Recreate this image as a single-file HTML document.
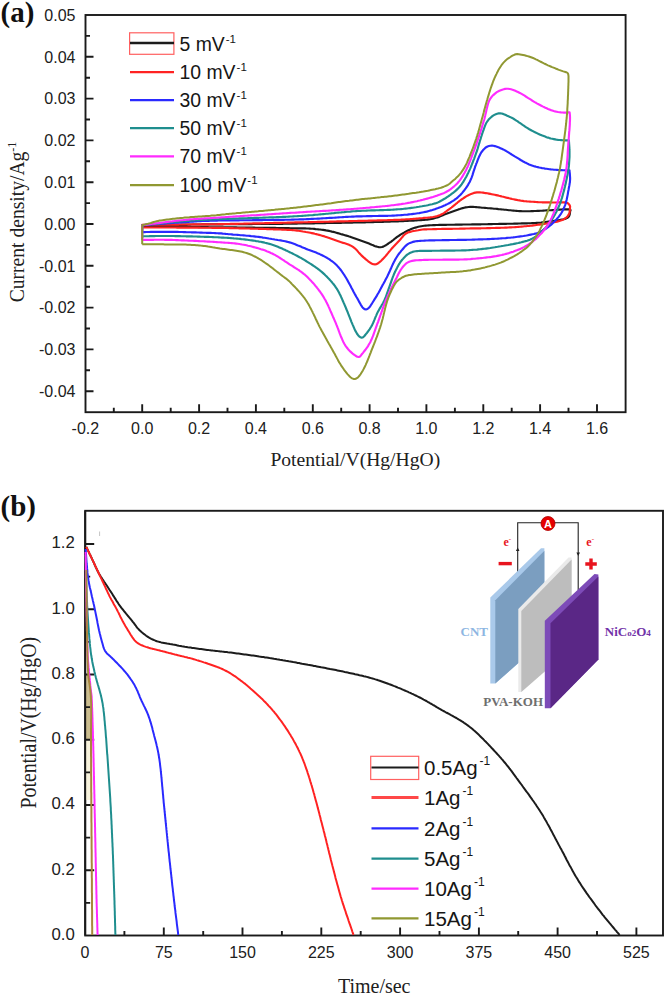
<!DOCTYPE html>
<html><head><meta charset="utf-8"><style>
html,body{margin:0;padding:0;background:#fff;width:668px;height:997px;overflow:hidden}
svg{display:block}
</style></head><body>
<svg width="668" height="997" viewBox="0 0 668 997"><rect x="85.5" y="15" width="540.1" height="397.2" fill="none" stroke="#1a1a1a" stroke-width="1.9"/>
<path d="M113.8 412.2V407.7M142.2 412.2V404.2M170.7 412.2V407.7M199.1 412.2V404.2M227.5 412.2V407.7M255.9 412.2V404.2M284.3 412.2V407.7M312.8 412.2V404.2M341.2 412.2V407.7M369.6 412.2V404.2M398 412.2V407.7M426.4 412.2V404.2M454.9 412.2V407.7M483.3 412.2V404.2M511.7 412.2V407.7M540.1 412.2V404.2M568.5 412.2V407.7M597 412.2V404.2M85.5 391.2H93.5M85.5 370.3H90M85.5 349.4H93.5M85.5 328.5H90M85.5 307.6H93.5M85.5 286.7H90M85.5 265.8H93.5M85.5 244.9H90M85.5 224H93.5M85.5 203.1H90M85.5 182.2H93.5M85.5 161.3H90M85.5 140.4H93.5M85.5 119.5H90M85.5 98.6H93.5M85.5 77.7H90M85.5 56.8H93.5M85.5 35.9H90" stroke="#1a1a1a" stroke-width="1.9" fill="none"/>
<g font-family='"Liberation Sans", sans-serif' font-size="16" fill="#202020" text-anchor="middle"><text x="85.4" y="434">-0.2</text><text x="142.2" y="434">0.0</text><text x="199.1" y="434">0.2</text><text x="255.9" y="434">0.4</text><text x="312.8" y="434">0.6</text><text x="369.6" y="434">0.8</text><text x="426.4" y="434">1.0</text><text x="483.3" y="434">1.2</text><text x="540.1" y="434">1.4</text><text x="597" y="434">1.6</text></g>
<g font-family='"Liberation Sans", sans-serif' font-size="16" fill="#202020" text-anchor="end"><text x="75.5" y="396.9">-0.04</text><text x="75.5" y="355.1">-0.03</text><text x="75.5" y="313.3">-0.02</text><text x="75.5" y="271.5">-0.01</text><text x="75.5" y="229.7">0.00</text><text x="75.5" y="187.9">0.01</text><text x="75.5" y="146.1">0.02</text><text x="75.5" y="104.3">0.03</text><text x="75.5" y="62.5">0.04</text><text x="75.5" y="20.7">0.05</text></g>
<text x="355.3" y="465.6" font-family='"Liberation Serif", serif' font-size="19.6" fill="#202020" text-anchor="middle">Potential/V(Hg/HgO)</text>
<g transform="translate(24.3 222) rotate(-90) scale(1 1.1)"><text x="0" y="0" font-family='"Liberation Serif", serif' font-size="19.6" fill="#202020" text-anchor="middle">Current density/Ag<tspan font-size="12" dy="-8">-1</tspan></text></g>
<text x="0.5" y="21.7" font-family='"Liberation Serif", serif' font-size="29" font-weight="bold" fill="#111">(a)</text>
<rect x="129.6" y="32.8" width="44.3" height="21.5" fill="none" stroke="#ff6060" stroke-width="1.2"/>
<path d="M130 43H174" stroke="#1c1c1c" stroke-width="2.3"/>
<text x="179.5" y="50.5" font-family='"Liberation Sans", sans-serif' font-size="19.4" fill="#161616">5 mV<tspan font-size="11.5" dx="1" dy="-8">-1</tspan></text>
<path d="M130 72.2H174" stroke="#ff2222" stroke-width="2.3"/>
<text x="179.5" y="78.6" font-family='"Liberation Sans", sans-serif' font-size="19.4" fill="#161616">10 mV<tspan font-size="11.5" dx="1" dy="-8">-1</tspan></text>
<path d="M130 100.1H174" stroke="#2a2aff" stroke-width="2.3"/>
<text x="179.5" y="106.7" font-family='"Liberation Sans", sans-serif' font-size="19.4" fill="#161616">30 mV<tspan font-size="11.5" dx="1" dy="-8">-1</tspan></text>
<path d="M130 128.2H174" stroke="#1f8e8e" stroke-width="2.3"/>
<text x="179.5" y="135.1" font-family='"Liberation Sans", sans-serif' font-size="19.4" fill="#161616">50 mV<tspan font-size="11.5" dx="1" dy="-8">-1</tspan></text>
<path d="M130 156.3H174" stroke="#ff2bff" stroke-width="2.3"/>
<text x="179.5" y="163.3" font-family='"Liberation Sans", sans-serif' font-size="19.4" fill="#161616">70 mV<tspan font-size="11.5" dx="1" dy="-8">-1</tspan></text>
<path d="M130 185.2H174" stroke="#909832" stroke-width="2.3"/>
<text x="179.5" y="191.5" font-family='"Liberation Sans", sans-serif' font-size="19.4" fill="#161616">100 mV<tspan font-size="11.5" dx="1" dy="-8">-1</tspan></text>
<g>
<path d="M142.2 226.5L142.2 225L143.7 225 145.2 225 146.7 225 148.2 224.9 149.7 224.9 151.2 224.9 152.7 224.9 154.2 224.9 155.7 224.9 157.2 224.9 158.7 224.8 160.2 224.8 161.7 224.8 163.2 224.8 164.7 224.8 166.2 224.8 167.7 224.8 169.2 224.8 170.7 224.7 172.2 224.7 173.7 224.7 175.2 224.7 176.7 224.7 178.2 224.7 179.7 224.7 181.2 224.6 182.7 224.6 184.2 224.6 185.7 224.6 187.2 224.6 188.7 224.6 190.2 224.6 191.7 224.5 193.2 224.5 194.7 224.5 196.2 224.5 197.7 224.5 199.2 224.5 200.7 224.5 202.2 224.4 203.7 224.4 205.2 224.4 206.7 224.4 208.2 224.4 209.7 224.4 211.2 224.4 212.7 224.4 214.2 224.3 215.7 224.3 217.2 224.3 218.7 224.3 220.2 224.3 221.7 224.3 223.2 224.3 224.7 224.2 226.2 224.2 227.7 224.2 229.2 224.2 230.7 224.2 232.2 224.2 233.7 224.2 235.2 224.2 236.7 224.1 238.2 224.1 239.7 224.1 241.2 224.1 242.7 224.1 244.2 224.1 245.7 224.1 247.2 224.1 248.7 224.1 250.2 224.1 251.7 224.1 253.2 224 254.7 224 256.2 224 257.7 224 259.2 224 260.7 224 262.2 224 263.7 224 265.2 224 266.7 224 268.2 223.9 269.7 223.9 271.2 223.9 272.7 223.9 274.2 223.9 275.7 223.9 277.2 223.8 278.7 223.8 280.2 223.8 281.7 223.8 283.2 223.8 284.7 223.7 286.2 223.7 287.7 223.7 289.2 223.7 290.7 223.6 292.2 223.6 293.7 223.6 295.2 223.6 296.7 223.6 298.2 223.5 299.7 223.5 301.2 223.5 302.7 223.5 304.2 223.4 305.7 223.4 307.2 223.4 308.7 223.4 310.2 223.3 311.7 223.3 313.2 223.3 314.7 223.3 316.2 223.2 317.7 223.2 319.2 223.2 320.7 223.2 322.2 223.1 323.7 223.1 325.2 223.1 326.7 223 328.2 223 329.7 223 331.2 223 332.7 222.9 334.2 222.9 335.7 222.9 337.2 222.9 338.7 222.8 340.2 222.8 341.7 222.8 343.2 222.7 344.7 222.7 346.2 222.7 347.7 222.7 349.2 222.6 350.7 222.6 352.2 222.6 353.7 222.5 355.2 222.5 356.7 222.5 358.2 222.4 359.7 222.4 361.2 222.4 362.7 222.3 364.2 222.3 365.7 222.3 367.2 222.2 368.7 222.2 370.2 222.2 371.7 222.1 373.2 222.1 374.7 222 376.2 222 377.7 222 379.2 221.9 380.7 221.9 382.2 221.8 383.7 221.8 385.2 221.7 386.7 221.7 388.2 221.7 389.7 221.6 391.2 221.5 392.7 221.5 394.2 221.4 395.7 221.4 397.2 221.3 398.7 221.3 400.2 221.2 401.7 221.1 403.2 221.1 404.7 221 406.2 220.9 407.7 220.9 409.2 220.8 410.7 220.7 412.2 220.7 413.6 220.6 415.1 220.5 416.6 220.4 418.1 220.3 419.6 220.2 421.1 220.1 422.6 220 424.1 219.9 425.6 219.7 427.1 219.6 428.6 219.4 430.1 219.2 431.6 218.9 433 218.6 434.5 218.2 435.9 217.8 437.4 217.4 438.8 216.9 440.2 216.3 441.5 215.7 442.9 215.2 444.3 214.6 445.7 214.1 447.1 213.6 448.5 213 449.9 212.5 451.3 211.9 452.7 211.4 454.1 210.9 455.5 210.4 457 209.9 458.4 209.4 459.8 209 461.3 208.5 462.7 208.1 464.2 207.7 465.6 207.4 467.1 207.2 468.6 207 470.1 206.9 471.6 206.8 473.1 206.9 474.6 207 476.1 207.1 477.6 207.3 479.1 207.4 480.6 207.5 482 207.7 483.5 207.8 485 207.9 486.5 208 488 208.2 489.5 208.3 491 208.4 492.5 208.5 494 208.7 495.5 208.8 497 208.9 498.5 209.1 500 209.2 501.5 209.4 503 209.5 504.5 209.7 505.9 209.8 507.4 210 508.9 210.2 510.4 210.3 511.9 210.5 513.4 210.6 514.9 210.8 516.4 210.9 517.9 211 519.4 211.1 520.9 211.1 522.4 211.2 523.9 211.2 525.4 211.2 526.9 211.2 528.4 211.2 529.9 211.2 531.4 211.1 532.9 211.1 534.4 211 535.9 211 537.4 210.9 538.9 210.9 540.4 210.8 541.9 210.7 543.4 210.6 544.9 210.5 546.4 210.4 547.9 210.3 549.4 210.2 550.9 210.2 552.4 210.1 553.9 210 555.4 209.9 556.8 209.8 558.3 209.7 559.8 209.6 561.3 209.5 562.8 209.4 564.3 209.4 565.8 209.3 567.3 209.3 568.8 209.3 570.3 209.5 570.5 210.6 570.1 211L570 212.5 569.8 214 569.4 215.4 568.7 216.7 567.6 217.7 566.2 218.4 564.8 218.9 563.4 219.3 561.9 219.6 560.4 219.9 559 220.2 557.5 220.4 556 220.6 554.5 220.8 553 221 551.5 221.2 550.1 221.4 548.6 221.6 547.1 221.8 545.6 222 544.1 222.2 542.6 222.4 541.1 222.6 539.6 222.7 538.1 222.8 536.6 222.9 535.1 223 533.6 223.1 532.1 223.1 530.6 223.2 529.1 223.2 527.6 223.3 526.2 223.3 524.7 223.4 523.2 223.4 521.7 223.4 520.2 223.5 518.7 223.5 517.2 223.6 515.7 223.6 514.2 223.6 512.7 223.7 511.2 223.7 509.7 223.7 508.2 223.7 506.7 223.8 505.2 223.8 503.7 223.8 502.2 223.9 500.7 223.9 499.2 223.9 497.7 224 496.2 224 494.7 224 493.2 224 491.7 224.1 490.2 224.1 488.7 224.1 487.2 224.2 485.7 224.2 484.2 224.2 482.7 224.2 481.2 224.3 479.7 224.3 478.2 224.3 476.7 224.4 475.2 224.4 473.7 224.4 472.2 224.4 470.7 224.5 469.2 224.5 467.7 224.5 466.2 224.5 464.7 224.5 463.2 224.5 461.7 224.6 460.2 224.6 458.7 224.6 457.2 224.6 455.7 224.6 454.2 224.7 452.7 224.7 451.2 224.7 449.7 224.7 448.2 224.7 446.7 224.8 445.2 224.8 443.7 224.8 442.2 224.9 440.7 224.9 439.2 224.9 437.7 225 436.2 225 434.7 225.1 433.2 225.1 431.7 225.2 430.2 225.3 428.7 225.4 427.2 225.5 425.7 225.6 424.2 225.8 422.7 226 421.2 226.2 419.7 226.5 418.3 226.8 416.8 227.2 415.4 227.6 414 228.1 412.6 228.6 411.2 229.1 409.8 229.7 408.4 230.3 407 230.9 405.7 231.6 404.4 232.4 403.1 233.1 401.8 233.9 400.5 234.7 399.3 235.5 398 236.3 396.8 237.2 395.6 238.1 394.4 239 393.3 240 392.1 240.9 390.9 241.8 389.6 242.6 388.4 243.5 387.2 244.3 385.9 245.2 384.6 245.9 383.3 246.6 381.9 247 380.4 247.2 378.9 247.1 377.4 246.8 376 246.4 374.5 245.9 373.2 245.3 371.8 244.8 370.4 244.2 369 243.6 367.6 243 366.2 242.4 364.8 241.9 363.4 241.4 362 240.9 360.6 240.4 359.2 239.9 357.8 239.4 356.4 238.9 355 238.4 353.5 237.9 352.1 237.4 350.7 236.9 349.3 236.5 347.8 236 346.4 235.6 344.9 235.2 343.5 234.8 342.1 234.4 340.6 234 339.2 233.5 337.7 233.1 336.3 232.7 334.8 232.3 333.4 231.9 331.9 231.6 330.5 231.2 329 230.9 327.5 230.6 326.1 230.4 324.6 230.1 323.1 229.9 321.6 229.7 320.1 229.5 318.6 229.4 317.1 229.2 315.6 229.1 314.2 228.9 312.7 228.8 311.2 228.7 309.7 228.6 308.2 228.5 306.7 228.5 305.2 228.4 303.7 228.4 302.2 228.4 300.7 228.3 299.2 228.3 297.7 228.3 296.2 228.3 294.7 228.2 293.2 228.2 291.7 228.2 290.2 228.2 288.7 228.1 287.2 228.1 285.7 228.1 284.2 228.1 282.7 228 281.2 228 279.7 228 278.2 228 276.7 228 275.2 227.9 273.7 227.9 272.2 227.9 270.7 227.9 269.2 227.8 267.7 227.8 266.2 227.8 264.7 227.8 263.2 227.8 261.7 227.7 260.2 227.7 258.7 227.7 257.2 227.7 255.7 227.7 254.2 227.6 252.7 227.6 251.2 227.6 249.7 227.6 248.2 227.6 246.7 227.6 245.2 227.5 243.7 227.5 242.2 227.5 240.7 227.5 239.2 227.5 237.7 227.5 236.2 227.4 234.7 227.4 233.2 227.4 231.7 227.4 230.2 227.4 228.7 227.4 227.2 227.3 225.7 227.3 224.2 227.3 222.7 227.3 221.2 227.3 219.7 227.3 218.2 227.3 216.7 227.2 215.2 227.2 213.7 227.2 212.2 227.2 210.7 227.2 209.2 227.2 207.7 227.1 206.2 227.1 204.7 227.1 203.2 227.1 201.7 227.1 200.2 227.1 198.7 227.1 197.2 227 195.7 227 194.2 227 192.7 227 191.2 227 189.7 227 188.2 227 186.7 226.9 185.2 226.9 183.7 226.9 182.2 226.9 180.7 226.9 179.2 226.9 177.7 226.9 176.2 226.8 174.7 226.8 173.2 226.8 171.7 226.8 170.2 226.8 168.7 226.8 167.2 226.7 165.7 226.7 164.2 226.7 162.7 226.7 161.2 226.7 159.7 226.7 158.2 226.7 156.7 226.6 155.2 226.6 153.7 226.6 152.2 226.6 150.7 226.6 149.2 226.6 147.7 226.6 146.2 226.5 144.7 226.5 143.2 226.5 142.2 226.5" fill="none" stroke="#1c1c1c" stroke-width="2.15" stroke-linejoin="round"/>
<path d="M142.2 227.5L142.2 224.8L143.7 224.8 145.2 224.8 146.7 224.8 148.2 224.8 149.7 224.7 151.2 224.7 152.7 224.7 154.2 224.7 155.7 224.7 157.2 224.7 158.7 224.7 160.2 224.7 161.7 224.7 163.2 224.7 164.7 224.7 166.2 224.6 167.7 224.6 169.2 224.6 170.7 224.6 172.2 224.6 173.7 224.6 175.2 224.6 176.7 224.6 178.2 224.6 179.7 224.5 181.2 224.5 182.7 224.5 184.2 224.5 185.7 224.5 187.2 224.5 188.7 224.5 190.2 224.5 191.7 224.5 193.2 224.4 194.7 224.4 196.2 224.4 197.7 224.4 199.2 224.4 200.7 224.4 202.2 224.4 203.7 224.3 205.2 224.3 206.7 224.3 208.2 224.3 209.7 224.3 211.2 224.2 212.7 224.2 214.2 224.2 215.7 224.2 217.2 224.2 218.7 224.1 220.2 224.1 221.7 224.1 223.2 224.1 224.7 224 226.2 224 227.7 224 229.2 224 230.7 223.9 232.2 223.9 233.7 223.9 235.2 223.8 236.7 223.8 238.2 223.8 239.7 223.7 241.2 223.7 242.7 223.7 244.2 223.6 245.7 223.6 247.2 223.6 248.7 223.5 250.2 223.5 251.7 223.5 253.2 223.4 254.7 223.4 256.2 223.4 257.7 223.3 259.2 223.3 260.7 223.3 262.2 223.2 263.7 223.2 265.2 223.1 266.7 223.1 268.2 223.1 269.7 223 271.2 223 272.7 223 274.2 222.9 275.7 222.9 277.2 222.9 278.7 222.8 280.2 222.8 281.7 222.8 283.2 222.7 284.7 222.7 286.2 222.7 287.7 222.6 289.2 222.6 290.7 222.6 292.2 222.5 293.7 222.5 295.2 222.4 296.7 222.4 298.2 222.4 299.7 222.3 301.2 222.3 302.7 222.3 304.2 222.2 305.7 222.2 307.2 222.2 308.7 222.1 310.2 222.1 311.7 222.1 313.2 222 314.7 222 316.2 222 317.7 221.9 319.2 221.9 320.7 221.8 322.2 221.8 323.7 221.8 325.2 221.7 326.7 221.7 328.2 221.7 329.7 221.6 331.2 221.6 332.7 221.6 334.2 221.5 335.7 221.5 337.2 221.4 338.7 221.4 340.2 221.4 341.7 221.3 343.2 221.3 344.7 221.3 346.2 221.2 347.7 221.2 349.2 221.1 350.7 221.1 352.2 221.1 353.7 221 355.2 221 356.7 221 358.2 220.9 359.7 220.9 361.2 220.8 362.7 220.8 364.2 220.8 365.7 220.7 367.2 220.7 368.7 220.6 370.2 220.6 371.7 220.6 373.2 220.5 374.7 220.5 376.2 220.5 377.7 220.4 379.2 220.4 380.7 220.3 382.2 220.3 383.7 220.2 385.1 220.2 386.6 220.2 388.1 220.1 389.6 220.1 391.1 220 392.6 220 394.1 219.9 395.6 219.9 397.1 219.8 398.6 219.8 400.1 219.7 401.6 219.6 403.1 219.6 404.6 219.5 406.1 219.4 407.6 219.3 409.1 219.2 410.6 219.1 412.1 219 413.6 218.9 415.1 218.8 416.6 218.6 418.1 218.5 419.6 218.3 421.1 218.2 422.6 218.1 424.1 217.9 425.6 217.8 427.1 217.7 428.6 217.5 430 217.4 431.5 217.2 433 217 434.5 216.7 436 216.4 437.4 216 438.8 215.5 440.2 215 441.6 214.3 442.9 213.6 444.2 212.8 445.4 212 446.6 211.1 447.8 210.2 449 209.3 450.3 208.4 451.5 207.5 452.6 206.6 453.8 205.7 455 204.7 456.1 203.7 457.3 202.8 458.4 201.8 459.6 200.9 460.8 200 462 199.2 463.3 198.3 464.5 197.5 465.8 196.7 467.1 195.9 468.4 195.2 469.8 194.6 471.1 193.9 472.5 193.4 473.9 192.9 475.4 192.6 476.9 192.4 478.4 192.3 479.9 192.4 481.4 192.5 482.9 192.6 484.4 192.9 485.8 193.1 487.3 193.3 488.8 193.6 490.3 193.9 491.7 194.2 493.2 194.5 494.7 194.8 496.1 195.1 497.6 195.4 499.1 195.8 500.5 196.1 502 196.5 503.4 196.8 504.9 197.2 506.4 197.6 507.8 197.9 509.3 198.3 510.7 198.6 512.2 199 513.6 199.3 515.1 199.6 516.6 199.9 518.1 200.2 519.5 200.4 521 200.7 522.5 200.9 524 201.1 525.5 201.2 527 201.4 528.5 201.5 530 201.6 531.5 201.7 533 201.8 534.5 201.9 536 202 537.5 202.1 538.9 202.2 540.4 202.2 541.9 202.3 543.4 202.3 544.9 202.4 546.4 202.4 547.9 202.4 549.4 202.4 550.9 202.5 552.4 202.5 553.9 202.5 555.4 202.5 556.9 202.5 558.4 202.4 559.9 202.4 561.4 202.4 562.9 202.3 564.4 202.4 565.9 202.5 567.4 203 568.6 203.8 569.5 205 570.1 206.2L570 207.7 569.9 209.2 569.8 210.7 569.6 212.2 569.2 213.6 568.5 215 567.6 216.2 566.6 217.3 565.4 218.2 564.2 219 562.8 219.7 561.5 220.3 560 220.8 558.6 221.2 557.1 221.6 555.7 221.9 554.2 222.2 552.7 222.4 551.3 222.7 549.8 223 548.3 223.2 546.8 223.5 545.3 223.7 543.9 223.9 542.4 224.2 540.9 224.4 539.4 224.6 537.9 224.8 536.4 225 535 225.2 533.5 225.4 532 225.6 530.5 225.7 529 225.9 527.5 226 526 226.2 524.5 226.3 523 226.5 521.5 226.6 520 226.8 518.5 226.9 517 227 515.5 227.1 514 227.2 512.6 227.3 511.1 227.4 509.6 227.4 508.1 227.5 506.6 227.6 505.1 227.6 503.6 227.7 502.1 227.7 500.6 227.8 499.1 227.8 497.6 227.9 496.1 227.9 494.6 228 493.1 228 491.6 228 490.1 228.1 488.6 228.1 487.1 228.1 485.6 228.2 484.1 228.2 482.6 228.2 481.1 228.3 479.6 228.3 478.1 228.3 476.6 228.3 475.1 228.4 473.6 228.4 472.1 228.4 470.6 228.4 469.1 228.5 467.6 228.5 466.1 228.5 464.6 228.6 463.1 228.6 461.6 228.6 460.1 228.6 458.6 228.7 457.1 228.7 455.6 228.7 454.1 228.7 452.6 228.8 451.1 228.8 449.6 228.8 448.1 228.8 446.6 228.9 445.1 228.9 443.6 228.9 442.1 228.9 440.6 229 439.1 229 437.6 229 436.1 229.1 434.6 229.1 433.1 229.1 431.6 229.2 430.1 229.2 428.6 229.2 427.1 229.3 425.6 229.3 424.1 229.4 422.6 229.5 421.1 229.7 419.6 230 418.2 230.3 416.7 230.5 415.2 230.8 413.7 231 412.2 231.3 410.8 231.7 409.3 232.1 407.9 232.6 406.6 233.2 405.3 234 404.2 235 403.1 236.1 402.2 237.3 401.2 238.4 400.3 239.6 399.2 240.7 398.2 241.7 397.2 242.8 396.1 243.9 395.1 245 394.1 246.1 393 247.2 392 248.3 391.1 249.4 390.1 250.6 389.1 251.7 388.2 252.9 387.2 254.1 386.3 255.2 385.3 256.4 384.3 257.5 383.3 258.6 382.2 259.6 381.2 260.7 380.1 261.7 378.9 262.7 377.7 263.5 376.3 264.2 374.9 264.4 373.4 264.3 372 263.7 370.7 263 369.4 262.2 368.2 261.3 367.1 260.3 365.9 259.4 364.8 258.4 363.6 257.4 362.5 256.4 361.4 255.4 360.4 254.3 359.4 253.2 358.4 252.1 357.4 250.9 356.4 249.8 355.3 248.8 354.2 247.8 353 246.9 351.7 246.1 350.4 245.4 349 244.8 347.6 244.2 346.2 243.7 344.8 243.3 343.3 242.9 341.9 242.4 340.5 242 339.1 241.5 337.6 241 336.2 240.5 334.8 240 333.4 239.5 332 239 330.6 238.5 329.2 238 327.7 237.5 326.3 237 324.9 236.6 323.5 236.1 322 235.7 320.6 235.3 319.1 234.9 317.7 234.5 316.2 234.1 314.8 233.8 313.3 233.4 311.8 233.1 310.4 232.8 308.9 232.5 307.4 232.2 306 232 304.5 231.7 303 231.5 301.5 231.2 300 231 298.5 230.8 297.1 230.6 295.6 230.4 294.1 230.2 292.6 230.1 291.1 230 289.6 229.9 288.1 229.8 286.6 229.8 285.1 229.7 283.6 229.6 282.1 229.6 280.6 229.5 279.1 229.5 277.6 229.4 276.1 229.4 274.6 229.3 273.1 229.3 271.6 229.2 270.1 229.2 268.6 229.1 267.1 229.1 265.6 229 264.1 229 262.6 228.9 261.1 228.9 259.6 228.8 258.1 228.8 256.6 228.7 255.1 228.7 253.6 228.7 252.1 228.6 250.6 228.6 249.1 228.5 247.6 228.5 246.1 228.5 244.6 228.4 243.1 228.4 241.6 228.3 240.1 228.3 238.6 228.3 237.1 228.2 235.6 228.2 234.1 228.2 232.6 228.1 231.1 228.1 229.6 228.1 228.1 228 226.6 228 225.1 228 223.6 227.9 222.1 227.9 220.6 227.9 219.1 227.9 217.6 227.8 216.1 227.8 214.6 227.8 213.1 227.8 211.6 227.8 210.1 227.7 208.6 227.7 207.1 227.7 205.6 227.7 204.1 227.7 202.6 227.7 201.1 227.7 199.6 227.6 198.1 227.6 196.6 227.6 195.1 227.6 193.6 227.6 192.1 227.6 190.6 227.6 189.1 227.6 187.6 227.6 186.1 227.6 184.6 227.6 183.1 227.6 181.6 227.6 180.1 227.6 178.6 227.6 177.1 227.6 175.6 227.5 174.1 227.5 172.6 227.5 171.1 227.5 169.6 227.5 168.1 227.5 166.6 227.5 165.1 227.5 163.6 227.5 162.1 227.5 160.6 227.5 159.1 227.5 157.6 227.5 156.1 227.5 154.6 227.5 153.1 227.5 151.6 227.5 150.1 227.5 148.6 227.5 147.1 227.5 145.6 227.5 144.1 227.5 142.6 227.5 142.2 227.5" fill="none" stroke="#ff2222" stroke-width="2.15" stroke-linejoin="round"/>
<path d="M142.2 232.1L142.2 225.2L143.7 225.1 145.2 225 146.7 224.9 148.2 224.8 149.7 224.7 151.2 224.5 152.7 224.4 154.2 224.3 155.7 224.2 157.2 224.1 158.7 224 160.2 223.9 161.6 223.8 163.1 223.7 164.6 223.6 166.1 223.5 167.6 223.3 169.1 223.2 170.6 223.1 172.1 223 173.6 222.9 175.1 222.8 176.6 222.7 178.1 222.6 179.6 222.5 181.1 222.4 182.6 222.3 184.1 222.2 185.6 222.1 187.1 222 188.6 221.9 190.1 221.8 191.6 221.7 193.1 221.6 194.6 221.5 196.1 221.4 197.6 221.3 199.1 221.2 200.6 221.1 202.1 221 203.6 221 205.1 220.9 206.6 220.9 208 220.8 209.5 220.8 211 220.7 212.5 220.7 214 220.6 215.5 220.6 217 220.6 218.5 220.5 220 220.5 221.5 220.5 223 220.5 224.5 220.4 226 220.4 227.5 220.4 229 220.4 230.5 220.4 232 220.3 233.5 220.3 235 220.3 236.5 220.3 238 220.3 239.5 220.3 241 220.2 242.5 220.2 244 220.2 245.5 220.2 247 220.2 248.5 220.2 250 220.2 251.5 220.2 253 220.1 254.5 220.1 256 220.1 257.5 220.1 259 220.1 260.5 220.1 262 220.1 263.5 220 265 220 266.5 220 268 220 269.5 220 271 220 272.5 219.9 274 219.9 275.5 219.9 277 219.9 278.5 219.9 280 219.8 281.5 219.8 283 219.8 284.5 219.8 286 219.7 287.5 219.7 289 219.7 290.5 219.7 292 219.6 293.5 219.6 295 219.5 296.5 219.5 298 219.5 299.5 219.4 301 219.4 302.5 219.3 304 219.3 305.5 219.2 307 219.1 308.5 219.1 310 219 311.5 218.9 313 218.9 314.5 218.8 316 218.7 317.5 218.6 319 218.6 320.5 218.5 322 218.4 323.5 218.3 325 218.2 326.5 218.1 328 218 329.5 217.9 331 217.8 332.5 217.8 334 217.7 335.5 217.6 337 217.5 338.5 217.4 340 217.3 341.5 217.2 343 217.1 344.5 217 346 216.9 347.5 216.9 349 216.8 350.5 216.7 352 216.6 353.5 216.6 355 216.5 356.5 216.4 358 216.4 359.5 216.3 361 216.3 362.5 216.3 364 216.2 365.5 216.2 367 216.1 368.5 216.1 370 216.1 371.5 216.1 373 216 374.5 216 376 216 377.5 216 379 215.9 380.5 215.9 382 215.9 383.5 215.9 385 215.8 386.5 215.8 387.9 215.8 389.4 215.7 390.9 215.7 392.4 215.6 393.9 215.6 395.4 215.5 396.9 215.4 398.4 215.3 399.9 215.2 401.4 215.1 402.9 215 404.4 214.8 405.9 214.7 407.4 214.6 408.9 214.4 410.4 214.3 411.9 214.1 413.4 213.9 414.9 213.7 416.3 213.5 417.8 213.3 419.3 213.1 420.8 212.8 422.3 212.5 423.7 212.2 425.2 211.9 426.7 211.6 428.1 211.2 429.6 210.8 431 210.4 432.4 210 433.9 209.5 435.3 209.1 436.7 208.6 438.1 208.1 439.5 207.5 440.9 207 442.3 206.4 443.7 205.8 445.1 205.2 446.4 204.6 447.8 203.9 449.1 203.2 450.4 202.5 451.7 201.7 453 200.9 454.2 200.1 455.4 199.2 456.6 198.3 457.8 197.3 458.9 196.3 460 195.3 461 194.2 462 193.1 463 191.9 463.9 190.8 464.8 189.6 465.7 188.4 466.6 187.1 467.4 185.9 468.2 184.6 468.9 183.3 469.7 182 470.3 180.6 470.9 179.3 471.5 177.9 472 176.5 472.5 175.1 472.9 173.6 473.4 172.2 473.8 170.8 474.3 169.3 474.8 167.9 475.2 166.5 475.8 165.1 476.3 163.7 476.9 162.3 477.4 160.9 477.9 159.5 478.5 158.1 479.1 156.7 479.7 155.4 480.4 154 481.1 152.7 482 151.5 482.9 150.3 483.9 149.2 485 148.2 486.2 147.2 487.5 146.5 488.9 146 490.4 145.7 491.9 145.6 493.3 145.8 494.8 146.1 496.2 146.6 497.6 147.1 499 147.6 500.4 148.2 501.8 148.8 503.2 149.4 504.5 150.1 505.8 150.8 507.1 151.6 508.4 152.4 509.6 153.2 510.9 154 512.2 154.8 513.5 155.6 514.7 156.4 516 157.1 517.3 157.9 518.6 158.7 519.9 159.5 521.1 160.3 522.4 161 523.7 161.8 525.1 162.5 526.4 163.1 527.8 163.8 529.1 164.4 530.5 164.9 531.9 165.4 533.4 165.9 534.8 166.4 536.2 166.8 537.7 167.1 539.2 167.5 540.6 167.8 542.1 168.1 543.6 168.3 545.1 168.6 546.5 168.8 548 169 549.5 169.2 551 169.4 552.5 169.5 554 169.7 555.5 169.8 557 169.9 558.5 170 560 170.1 561.5 170.1 563 170.2 564.5 170.2 566 170.2 567.5 170.3 569 170.3 569.5 170.3L569.6 171.8 569.8 173.3 569.9 174.8 570 176.3 570.1 177.8 570.1 179.3 570 180.8 569.9 182.3 569.6 183.8 569.4 185.2 569.1 186.7 568.8 188.2 568.6 189.7 568.3 191.1 568 192.6 567.8 194.1 567.5 195.6 567.2 197 566.9 198.5 566.6 200 566.2 201.4 565.8 202.9 565.4 204.3 564.9 205.7 564.3 207.1 563.7 208.5 563.1 209.8 562.4 211.2 561.7 212.5 560.9 213.8 560.1 215 559.2 216.2 558.2 217.4 557.2 218.5 556.2 219.6 555.2 220.7 554.1 221.8 553.1 222.8 552 223.9 550.9 224.9 549.7 225.8 548.6 226.8 547.3 227.7 546.1 228.5 544.8 229.3 543.5 230 542.2 230.7 540.8 231.4 539.5 232.1 538.1 232.7 536.7 233.2 535.3 233.6 533.8 234 532.4 234.3 530.9 234.6 529.4 234.9 527.9 235.2 526.5 235.5 525 235.7 523.5 236 522 236.2 520.5 236.4 519.1 236.6 517.6 236.8 516.1 237 514.6 237.2 513.1 237.4 511.6 237.5 510.1 237.7 508.6 237.8 507.1 237.9 505.6 238.1 504.1 238.2 502.7 238.3 501.2 238.4 499.7 238.5 498.2 238.6 496.7 238.7 495.2 238.8 493.7 238.9 492.2 238.9 490.7 239 489.2 239.1 487.7 239.1 486.2 239.2 484.7 239.2 483.2 239.3 481.7 239.3 480.2 239.4 478.7 239.4 477.2 239.5 475.7 239.5 474.2 239.6 472.7 239.6 471.2 239.7 469.7 239.7 468.2 239.7 466.7 239.8 465.2 239.8 463.7 239.8 462.2 239.9 460.7 239.9 459.2 239.9 457.7 239.9 456.2 240 454.7 240 453.2 240 451.7 240 450.2 240 448.7 240.1 447.2 240.1 445.7 240.1 444.2 240.1 442.7 240.1 441.2 240.2 439.7 240.2 438.2 240.2 436.7 240.2 435.2 240.3 433.7 240.3 432.2 240.3 430.7 240.4 429.2 240.4 427.7 240.5 426.2 240.5 424.7 240.6 423.2 240.7 421.7 240.8 420.2 240.9 418.7 241 417.2 241.1 415.7 241.3 414.2 241.6 412.8 241.9 411.4 242.4 410 242.9 408.6 243.6 407.4 244.4 406.2 245.4 405.1 246.4 404.1 247.5 403.1 248.7 402.2 249.8 401.2 250.9 400.3 252.1 399.3 253.3 398.4 254.5 397.6 255.7 396.8 257 396 258.3 395.2 259.6 394.5 260.9 393.8 262.2 393.2 263.6 392.5 264.9 391.9 266.3 391.3 267.7 390.7 269 390.1 270.4 389.5 271.8 388.9 273.1 388.2 274.5 387.6 275.8 386.9 277.2 386.2 278.5 385.5 279.8 384.8 281.2 384.1 282.5 383.4 283.8 382.6 285.1 381.9 286.4 381.2 287.7 380.5 289.1 379.8 290.4 379.1 291.7 378.4 293 377.6 294.3 376.9 295.6 376.1 296.9 375.3 298.2 374.5 299.4 373.7 300.7 372.9 302 372.1 303.3 371.3 304.5 370.5 305.8 369.6 307 368.6 308.1 367.4 309 366 309.4 364.5 309.1 363.3 308.2 362.3 307.1 361.5 305.8 360.7 304.6 360 303.3 359.2 301.9 358.5 300.6 357.8 299.3 357.1 298 356.3 296.7 355.6 295.4 354.8 294.1 354.1 292.8 353.4 291.5 352.7 290.1 352 288.8 351.3 287.5 350.6 286.1 349.9 284.8 349.2 283.5 348.5 282.2 347.8 280.9 347 279.5 346.3 278.3 345.5 277 344.7 275.7 343.9 274.5 343 273.2 342.2 272 341.3 270.7 340.4 269.5 339.5 268.4 338.5 267.2 337.5 266.1 336.5 265 335.4 264 334.3 263 333.1 262 331.9 261.1 330.7 260.3 329.5 259.4 328.2 258.6 326.9 257.8 325.6 257.1 324.3 256.4 323 255.7 321.6 255 320.3 254.4 318.9 253.7 317.5 253.2 316.1 252.6 314.7 252.1 313.3 251.6 311.9 251 310.5 250.5 309.1 250 307.7 249.5 306.3 248.9 304.9 248.3 303.5 247.8 302.1 247.2 300.8 246.6 299.4 246 298 245.5 296.6 244.9 295.2 244.3 293.8 243.8 292.4 243.3 291 242.8 289.5 242.4 288.1 242 286.6 241.6 285.2 241.3 283.7 241 282.2 240.7 280.7 240.4 279.3 240.2 277.8 240 276.3 239.7 274.8 239.5 273.4 239.2 271.9 239 270.4 238.7 268.9 238.5 267.4 238.2 266 238 264.5 237.8 263 237.6 261.5 237.3 260 237.1 258.5 236.9 257 236.8 255.5 236.6 254.1 236.4 252.6 236.2 251.1 236.1 249.6 235.9 248.1 235.8 246.6 235.7 245.1 235.5 243.6 235.4 242.1 235.3 240.6 235.2 239.1 235 237.6 234.9 236.1 234.8 234.6 234.7 233.1 234.6 231.6 234.4 230.2 234.3 228.7 234.2 227.2 234 225.7 233.9 224.2 233.7 222.7 233.6 221.2 233.4 219.7 233.3 218.2 233.3 216.7 233.2 215.2 233.1 213.7 233 212.2 233 210.7 232.9 209.2 232.9 207.7 232.8 206.2 232.8 204.7 232.7 203.2 232.7 201.7 232.6 200.2 232.6 198.7 232.5 197.2 232.5 195.7 232.4 194.2 232.4 192.7 232.3 191.2 232.3 189.7 232.2 188.2 232.2 186.7 232.2 185.2 232.1 183.7 232.1 182.2 232 180.7 232 179.2 232 177.7 231.9 176.2 231.9 174.7 231.9 173.2 231.8 171.7 231.8 170.2 231.8 168.7 231.8 167.2 231.8 165.7 231.8 164.2 231.8 162.7 231.8 161.2 231.8 159.7 231.8 158.2 231.8 156.7 231.8 155.2 231.8 153.7 231.9 152.2 231.9 150.7 231.9 149.2 232 147.7 232 146.2 232 144.7 232.1 143.2 232.1 142.2 232.1" fill="none" stroke="#2a2aff" stroke-width="2.15" stroke-linejoin="round"/>
<path d="M142.2 236.3L142.2 225.2L143.7 225.1 145.2 224.9 146.7 224.8 148.2 224.6 149.7 224.5 151.2 224.3 152.6 224.2 154.1 224 155.6 223.9 157.1 223.7 158.6 223.6 160.1 223.4 161.6 223.3 163.1 223.1 164.6 223 166.1 222.8 167.6 222.7 169.1 222.5 170.6 222.4 172.1 222.3 173.5 222.1 175 222 176.5 221.9 178 221.7 179.5 221.6 181 221.5 182.5 221.3 184 221.2 185.5 221.1 187 221 188.5 220.8 190 220.7 191.5 220.6 193 220.5 194.5 220.4 196 220.3 197.5 220.2 199 220.1 200.5 220 202 219.9 203.5 219.8 205 219.8 206.5 219.7 208 219.6 209.5 219.6 211 219.5 212.5 219.4 213.9 219.3 215.4 219.3 216.9 219.2 218.4 219.2 219.9 219.1 221.4 219 222.9 219 224.4 218.9 225.9 218.9 227.4 218.8 228.9 218.8 230.4 218.7 231.9 218.7 233.4 218.6 234.9 218.6 236.4 218.5 237.9 218.5 239.4 218.4 240.9 218.4 242.4 218.3 243.9 218.3 245.4 218.2 246.9 218.2 248.4 218.1 249.9 218.1 251.4 218 252.9 218 254.4 217.9 255.9 217.9 257.4 217.8 258.9 217.8 260.4 217.7 261.9 217.7 263.4 217.6 264.9 217.6 266.4 217.5 267.9 217.5 269.4 217.4 270.9 217.4 272.4 217.3 273.9 217.3 275.4 217.2 276.9 217.1 278.4 217.1 279.9 217 281.4 217 282.9 216.9 284.4 216.8 285.9 216.8 287.4 216.7 288.9 216.6 290.4 216.5 291.9 216.5 293.4 216.4 294.9 216.3 296.4 216.2 297.9 216.1 299.4 216 300.9 216 302.4 215.9 303.9 215.8 305.4 215.6 306.9 215.5 308.4 215.4 309.9 215.3 311.4 215.2 312.8 215.1 314.3 214.9 315.8 214.8 317.3 214.7 318.8 214.5 320.3 214.4 321.8 214.3 323.3 214.1 324.8 214 326.3 213.8 327.8 213.7 329.3 213.5 330.8 213.4 332.3 213.2 333.8 213.1 335.2 212.9 336.7 212.8 338.2 212.6 339.7 212.5 341.2 212.4 342.7 212.2 344.2 212.1 345.7 211.9 347.2 211.8 348.7 211.7 350.2 211.6 351.7 211.4 353.2 211.3 354.7 211.2 356.2 211.1 357.7 211 359.2 211 360.7 210.9 362.2 210.8 363.7 210.7 365.2 210.7 366.7 210.6 368.2 210.5 369.7 210.5 371.1 210.4 372.6 210.4 374.1 210.3 375.6 210.3 377.1 210.2 378.6 210.2 380.1 210.1 381.6 210.1 383.1 210.1 384.6 210 386.1 210 387.6 209.9 389.1 209.8 390.6 209.8 392.1 209.7 393.6 209.6 395.1 209.5 396.6 209.4 398.1 209.3 399.6 209.2 401.1 209.1 402.6 209 404.1 208.8 405.6 208.6 407.1 208.5 408.6 208.3 410.1 208.1 411.5 207.9 413 207.7 414.5 207.5 416 207.3 417.5 207 419 206.8 420.4 206.5 421.9 206.3 423.4 206 424.9 205.7 426.3 205.5 427.8 205.2 429.3 204.8 430.7 204.5 432.2 204.2 433.7 203.8 435.1 203.4 436.5 202.9 437.9 202.4 439.3 201.7 440.6 201 441.9 200.3 443.2 199.5 444.5 198.8 445.8 198 447 197.2 448.3 196.3 449.5 195.5 450.7 194.6 451.9 193.7 453.1 192.8 454.3 191.9 455.5 190.9 456.6 189.9 457.7 188.9 458.7 187.8 459.7 186.7 460.7 185.5 461.6 184.3 462.4 183.1 463.3 181.9 464 180.6 464.8 179.3 465.5 178 466.3 176.7 467 175.3 467.6 174 468.3 172.7 468.9 171.3 469.6 169.9 470.2 168.6 470.8 167.2 471.3 165.8 471.9 164.4 472.5 163 473 161.6 473.5 160.2 474.1 158.8 474.6 157.4 475.1 156 475.6 154.6 476.1 153.2 476.6 151.8 477.1 150.3 477.6 148.9 478 147.5 478.4 146 478.8 144.6 479.3 143.2 479.7 141.7 480.1 140.3 480.6 138.9 481 137.4 481.5 136 481.9 134.6 482.4 133.2 482.9 131.7 483.4 130.3 483.9 128.9 484.4 127.5 484.9 126.1 485.5 124.7 486.1 123.3 486.9 122 487.7 120.8 488.6 119.6 489.7 118.5 490.8 117.5 491.9 116.5 493.1 115.7 494.4 114.9 495.8 114.2 497.2 113.7 498.6 113.4 500.1 113.3 501.6 113.5 503.1 113.9 504.5 114.4 505.8 115 507.2 115.7 508.5 116.3 509.9 116.9 511.3 117.6 512.6 118.2 513.9 119 515.2 119.8 516.4 120.6 517.7 121.4 518.9 122.3 520.2 123.1 521.4 124 522.6 124.9 523.8 125.7 525.1 126.6 526.3 127.4 527.6 128.2 528.9 129 530.2 129.7 531.5 130.5 532.8 131.1 534.1 131.8 535.5 132.5 536.8 133.1 538.2 133.8 539.6 134.4 541 135 542.3 135.6 543.7 136.1 545.1 136.6 546.5 137.2 548 137.6 549.4 138.1 550.8 138.5 552.3 138.8 553.8 139.1 555.2 139.4 556.7 139.7 558.2 139.9 559.7 140 561.2 140.1 562.7 140.2 564.2 140.3 565.7 140.3 567.2 140.4 568.7 140.4 568.9 140.4L569 141.9 569.1 143.4 569.2 144.9 569.3 146.4 569.4 147.9 569.4 149.4 569.5 150.9 569.5 152.4 569.5 153.9 569.5 155.4 569.5 156.9 569.4 158.4 569.3 159.9 569.2 161.4 569.1 162.9 569 164.4 568.9 165.9 568.7 167.4 568.5 168.8 568.3 170.3 568.1 171.8 567.8 173.3 567.5 174.8 567.2 176.2 566.9 177.7 566.6 179.2 566.3 180.6 566 182.1 565.7 183.6 565.3 185 565 186.5 564.6 187.9 564.3 189.4 563.9 190.9 563.5 192.3 563.1 193.8 562.7 195.2 562.3 196.6 561.9 198.1 561.4 199.5 561 200.9 560.5 202.3 560 203.8 559.4 205.2 558.8 206.5 558.2 207.9 557.6 209.3 557 210.6 556.3 212 555.6 213.3 554.9 214.6 554.1 215.9 553.4 217.2 552.6 218.5 551.8 219.8 551 221 550.1 222.3 549.3 223.5 548.3 224.7 547.4 225.8 546.3 226.9 545.3 228 544.2 229 543.2 230.1 542.1 231.2 541.1 232.2 540 233.2 538.8 234.2 537.7 235.2 536.5 236.1 535.2 236.9 533.9 237.7 532.6 238.4 531.3 239.1 529.9 239.7 528.5 240.2 527.1 240.7 525.6 241.1 524.2 241.5 522.8 241.9 521.3 242.3 519.8 242.6 518.4 243 516.9 243.3 515.4 243.6 514 243.9 512.5 244.2 511 244.4 509.5 244.7 508.1 245 506.6 245.2 505.1 245.5 503.6 245.8 502.2 246 500.7 246.3 499.2 246.5 497.7 246.8 496.2 247 494.8 247.3 493.3 247.5 491.8 247.7 490.3 248 488.8 248.2 487.3 248.4 485.9 248.6 484.4 248.8 482.9 248.9 481.4 249.1 479.9 249.3 478.4 249.4 476.9 249.6 475.4 249.7 473.9 249.8 472.4 249.9 470.9 250 469.4 250.1 467.9 250.2 466.4 250.3 464.9 250.3 463.4 250.4 461.9 250.4 460.4 250.5 458.9 250.5 457.4 250.5 455.9 250.5 454.4 250.6 452.9 250.6 451.4 250.6 449.9 250.6 448.4 250.6 446.9 250.6 445.4 250.6 443.9 250.6 442.4 250.6 440.9 250.6 439.4 250.7 437.9 250.7 436.4 250.7 434.9 250.7 433.4 250.7 431.9 250.8 430.4 250.8 428.9 250.8 427.4 250.9 425.9 250.9 424.4 250.9 422.9 250.9 421.4 250.9 419.9 250.9 418.4 251 417 251.1 415.5 251.3 414 251.5 412.5 251.9 411.1 252.4 409.8 253 408.5 253.8 407.2 254.6 406.1 255.6 405 256.7 404 257.7 403 258.9 402 260 401.1 261.2 400.2 262.4 399.4 263.7 398.6 264.9 397.9 266.2 397.2 267.6 396.5 268.9 395.8 270.2 395.2 271.6 394.5 273 393.9 274.3 393.4 275.7 392.8 277.1 392.3 278.5 391.8 279.9 391.3 281.4 390.8 282.8 390.3 284.2 389.8 285.6 389.3 287 388.8 288.4 388.3 289.8 387.8 291.3 387.3 292.7 386.8 294.1 386.3 295.5 385.8 296.9 385.2 298.3 384.6 299.7 384 301 383.3 302.4 382.6 303.7 381.8 305 381.1 306.3 380.3 307.6 379.5 308.9 378.8 310.2 378.1 311.5 377.4 312.8 376.8 314.2 376.2 315.6 375.6 316.9 375 318.3 374.5 319.7 373.9 321.1 373.3 322.5 372.7 323.8 372 325.2 371.3 326.5 370.5 327.8 369.7 329.1 368.8 330.3 368 331.5 367.1 332.7 366.1 333.9 365.2 335 364.2 336.2 363.1 337.2 361.7 337.6 360.3 337.2 359.1 336.3 358.1 335.2 357.2 334 356.5 332.7 355.7 331.4 355 330 354.4 328.7 353.8 327.3 353.2 325.9 352.6 324.6 352 323.2 351.4 321.8 350.9 320.4 350.3 319 349.8 317.6 349.2 316.2 348.7 314.8 348.1 313.4 347.6 312 347 310.6 346.4 309.3 345.9 307.9 345.3 306.5 344.7 305.1 344.1 303.7 343.5 302.4 342.9 301 342.3 299.6 341.7 298.2 341.1 296.9 340.5 295.5 339.8 294.2 339.1 292.8 338.4 291.5 337.7 290.2 336.9 288.9 336 287.7 335.2 286.4 334.3 285.2 333.4 284 332.4 282.9 331.5 281.7 330.5 280.6 329.5 279.5 328.5 278.4 327.4 277.3 326.4 276.2 325.3 275.2 324.2 274.1 323.1 273.1 322 272.1 320.8 271.2 319.7 270.2 318.5 269.3 317.3 268.4 316.1 267.6 314.8 266.7 313.6 265.9 312.3 265 311.1 264.2 309.8 263.4 308.6 262.6 307.3 261.8 306 261 304.7 260.2 303.4 259.4 302.2 258.7 300.9 257.9 299.5 257.2 298.2 256.5 296.9 255.8 295.6 255.1 294.2 254.4 292.9 253.7 291.6 253.1 290.2 252.4 288.9 251.8 287.5 251.1 286.1 250.5 284.8 249.8 283.4 249.2 282.1 248.6 280.7 248 279.3 247.4 277.9 246.8 276.5 246.2 275.1 245.7 273.7 245.2 272.3 244.7 270.9 244.3 269.4 243.9 268 243.5 266.5 243.1 265.1 242.8 263.6 242.4 262.1 242.1 260.7 241.8 259.2 241.6 257.7 241.3 256.2 241.1 254.7 240.8 253.3 240.6 251.8 240.4 250.3 240.2 248.8 240 247.3 239.8 245.8 239.6 244.3 239.4 242.8 239.2 241.4 239.1 239.9 238.9 238.4 238.8 236.9 238.6 235.4 238.5 233.9 238.4 232.4 238.2 230.9 238.1 229.4 238 227.9 237.9 226.4 237.8 224.9 237.7 223.4 237.6 221.9 237.6 220.4 237.5 218.9 237.4 217.4 237.3 215.9 237.2 214.4 237.2 212.9 237.1 211.4 237 209.9 237 208.4 236.9 206.9 236.9 205.4 236.8 203.9 236.8 202.4 236.7 200.9 236.7 199.4 236.6 197.9 236.6 196.4 236.5 194.9 236.5 193.4 236.5 191.9 236.4 190.4 236.4 188.9 236.3 187.4 236.3 185.9 236.3 184.4 236.2 182.9 236.2 181.4 236.2 179.9 236.1 178.4 236.1 176.9 236.1 175.4 236.1 173.9 236 172.4 236 170.9 236 169.4 236 167.9 236 166.4 236 164.9 236 163.4 236 161.9 236 160.4 236 158.9 236 157.4 236 155.9 236 154.4 236.1 152.9 236.1 151.4 236.1 149.9 236.1 148.5 236.2 147 236.2 145.5 236.2 144 236.3 142.5 236.3 142.2 236.3" fill="none" stroke="#1f8e8e" stroke-width="2.15" stroke-linejoin="round"/>
<path d="M142.2 239.9L142.2 225.2L143.7 225 145.2 224.8 146.7 224.6 148.1 224.4 149.6 224.2 151.1 224 152.6 223.8 154.1 223.6 155.6 223.4 157.1 223.2 158.6 223.1 160 222.9 161.5 222.7 163 222.5 164.5 222.3 166 222.1 167.5 221.9 169 221.7 170.5 221.5 172 221.4 173.4 221.2 174.9 221 176.4 220.8 177.9 220.6 179.4 220.5 180.9 220.3 182.4 220.2 183.9 220 185.4 219.9 186.9 219.7 188.4 219.6 189.8 219.4 191.3 219.3 192.8 219.2 194.3 219.1 195.8 219 197.3 218.9 198.8 218.8 200.3 218.7 201.8 218.6 203.3 218.5 204.8 218.4 206.3 218.4 207.8 218.3 209.3 218.2 210.8 218.1 212.3 218 213.8 217.9 215.3 217.8 216.8 217.7 218.3 217.6 219.8 217.5 221.3 217.4 222.8 217.3 224.3 217.2 225.8 217.1 227.3 217 228.8 216.9 230.3 216.8 231.8 216.7 233.3 216.6 234.8 216.5 236.3 216.4 237.7 216.3 239.2 216.2 240.7 216.1 242.2 216 243.7 215.9 245.2 215.8 246.7 215.7 248.2 215.6 249.7 215.5 251.2 215.4 252.7 215.3 254.2 215.2 255.7 215.2 257.2 215.1 258.7 215 260.2 214.9 261.7 214.8 263.2 214.7 264.7 214.6 266.2 214.5 267.7 214.4 269.2 214.3 270.7 214.2 272.2 214.1 273.7 214 275.2 213.9 276.7 213.8 278.2 213.7 279.7 213.6 281.2 213.5 282.7 213.4 284.2 213.3 285.6 213.2 287.1 213.1 288.6 213 290.1 212.9 291.6 212.8 293.1 212.7 294.6 212.7 296.1 212.6 297.6 212.5 299.1 212.4 300.6 212.3 302.1 212.2 303.6 212.1 305.1 212 306.6 211.9 308.1 211.8 309.6 211.7 311.1 211.6 312.6 211.5 314.1 211.5 315.6 211.4 317.1 211.3 318.6 211.2 320.1 211.1 321.6 211 323.1 210.9 324.6 210.8 326.1 210.8 327.6 210.7 329.1 210.6 330.6 210.5 332.1 210.4 333.6 210.3 335.1 210.2 336.6 210.1 338.1 210 339.5 209.9 341 209.8 342.5 209.7 344 209.6 345.5 209.5 347 209.4 348.5 209.3 350 209.2 351.5 209.1 353 209 354.5 208.8 356 208.7 357.5 208.6 359 208.5 360.5 208.3 362 208.2 363.5 208.1 365 208 366.5 207.8 368 207.7 369.5 207.6 370.9 207.4 372.4 207.3 373.9 207.2 375.4 207 376.9 206.9 378.4 206.8 379.9 206.6 381.4 206.5 382.9 206.3 384.4 206.2 385.9 206 387.4 205.9 388.9 205.7 390.4 205.5 391.8 205.3 393.3 205.2 394.8 205 396.3 204.8 397.8 204.6 399.3 204.4 400.8 204.2 402.2 203.9 403.7 203.7 405.2 203.5 406.7 203.2 408.2 202.9 409.6 202.7 411.1 202.4 412.6 202.1 414.1 201.8 415.5 201.5 417 201.2 418.4 200.8 419.9 200.5 421.4 200.1 422.8 199.8 424.3 199.4 425.7 199 427.2 198.6 428.6 198.2 430.1 197.8 431.5 197.4 432.9 197 434.4 196.5 435.8 196 437.2 195.6 438.6 195.1 440 194.6 441.4 194 442.8 193.5 444.2 192.9 445.6 192.2 446.9 191.5 448.2 190.8 449.5 190 450.7 189.1 451.9 188.2 453 187.2 454.2 186.3 455.3 185.3 456.4 184.2 457.4 183.2 458.4 182 459.4 180.9 460.3 179.7 461.1 178.5 462 177.2 462.8 175.9 463.5 174.6 464.3 173.3 465 172 465.7 170.7 466.4 169.4 467 168 467.7 166.7 468.3 165.3 468.8 163.9 469.4 162.5 470 161.1 470.5 159.7 471.1 158.3 471.6 156.9 472.1 155.5 472.7 154.1 473.2 152.7 473.7 151.3 474.3 149.9 474.8 148.5 475.3 147.1 475.8 145.7 476.3 144.3 476.8 142.8 477.2 141.4 477.7 140 478.2 138.6 478.7 137.2 479.2 135.7 479.6 134.3 480.1 132.9 480.5 131.5 481 130 481.5 128.6 481.9 127.2 482.3 125.7 482.8 124.3 483.2 122.9 483.6 121.4 484.1 120 484.5 118.5 484.8 117.1 485.2 115.6 485.5 114.2 485.9 112.7 486.2 111.2 486.5 109.8 486.9 108.3 487.2 106.9 487.6 105.4 488 104 488.5 102.5 489 101.1 489.7 99.8 490.4 98.5 491.3 97.3 492.3 96.1 493.3 95.1 494.4 94.1 495.6 93.1 496.8 92.2 498.1 91.4 499.4 90.8 500.8 90.2 502.2 89.7 503.7 89.3 505.1 88.9 506.6 88.7 508.1 88.8 509.6 89 511 89.3 512.5 89.7 513.9 90.2 515.3 90.8 516.7 91.4 518 92 519.4 92.7 520.7 93.4 522 94.1 523.3 94.9 524.6 95.7 525.8 96.5 527.1 97.3 528.3 98.1 529.6 98.9 530.9 99.7 532.1 100.5 533.4 101.3 534.7 102.1 536 102.8 537.3 103.6 538.6 104.3 540 105 541.3 105.7 542.6 106.4 544 107.1 545.3 107.7 546.7 108.3 548 108.9 549.4 109.5 550.8 110.1 552.2 110.5 553.7 111 555.1 111.4 556.6 111.7 558.1 112 559.5 112.2 561 112.4 562.5 112.5 564 112.6 565.5 112.6 567 112.5 568.5 112.4 569.6 112.4L569.8 113.9 569.9 115.4 570 116.9 570 118.4 570 119.9 569.9 121.4 569.8 122.9 569.8 124.4 569.7 125.9 569.6 127.4 569.5 128.9 569.4 130.4 569.2 131.9 569.1 133.4 569 134.8 568.9 136.3 568.8 137.8 568.7 139.3 568.6 140.8 568.4 142.3 568.3 143.8 568.2 145.3 568.1 146.8 568 148.3 567.9 149.8 567.8 151.3 567.7 152.8 567.7 154.3 567.6 155.8 567.5 157.3 567.4 158.8 567.3 160.3 567.1 161.8 567 163.3 566.8 164.8 566.7 166.3 566.5 167.7 566.3 169.2 566 170.7 565.8 172.2 565.5 173.7 565.2 175.1 564.9 176.6 564.5 178.1 564.2 179.5 563.8 181 563.5 182.4 563.1 183.9 562.7 185.3 562.3 186.8 561.9 188.2 561.5 189.7 561.1 191.1 560.6 192.5 560.2 194 559.8 195.4 559.3 196.8 558.9 198.3 558.4 199.7 557.9 201.1 557.5 202.5 557 204 556.5 205.4 556 206.8 555.5 208.2 555 209.6 554.5 211 553.9 212.4 553.4 213.8 552.8 215.2 552.2 216.6 551.6 218 550.9 219.3 550.3 220.7 549.6 222 548.8 223.3 548.1 224.6 547.3 225.8 546.4 227.1 545.5 228.3 544.6 229.5 543.7 230.7 542.7 231.8 541.8 233 540.7 234.1 539.7 235.1 538.6 236.2 537.6 237.2 536.5 238.3 535.3 239.3 534.2 240.2 533 241.2 531.9 242.1 530.7 243 529.4 243.9 528.2 244.7 526.9 245.5 525.6 246.2 524.3 246.9 522.9 247.6 521.6 248.3 520.2 248.9 518.8 249.5 517.5 250.1 516.1 250.6 514.7 251.1 513.3 251.7 511.8 252.1 510.4 252.6 509 253.1 507.5 253.5 506.1 253.9 504.6 254.3 503.2 254.6 501.7 255 500.3 255.3 498.8 255.6 497.3 255.9 495.8 256.2 494.4 256.4 492.9 256.6 491.4 256.9 489.9 257.1 488.4 257.3 486.9 257.4 485.5 257.6 484 257.8 482.5 258 481 258.1 479.5 258.3 478 258.4 476.5 258.5 475 258.7 473.5 258.8 472 258.9 470.5 259.1 469 259.2 467.5 259.3 466 259.3 464.5 259.4 463 259.5 461.5 259.5 460 259.5 458.5 259.6 457 259.6 455.5 259.6 454 259.6 452.5 259.6 451 259.6 449.5 259.6 448 259.6 446.5 259.6 445 259.6 443.5 259.6 442 259.7 440.5 259.7 439 259.7 437.5 259.7 436 259.7 434.5 259.7 433 259.7 431.5 259.7 430 259.7 428.5 259.8 427 259.8 425.5 259.9 424 259.9 422.5 260 421 260.1 419.5 260.1 418 260.2 416.5 260.3 415.1 260.4 413.6 260.6 412.1 260.9 410.6 261.2 409.2 261.7 407.9 262.4 406.6 263.2 405.4 264.1 404.4 265.2 403.4 266.3 402.4 267.5 401.6 268.7 400.7 269.9 399.9 271.2 399.2 272.5 398.5 273.8 397.8 275.2 397.2 276.5 396.5 277.9 395.8 279.2 395.2 280.6 394.5 281.9 393.8 283.2 393.2 284.6 392.5 285.9 391.8 287.3 391.2 288.6 390.5 290 389.9 291.3 389.2 292.7 388.6 294.1 388 295.4 387.4 296.8 386.8 298.2 386.2 299.5 385.6 300.9 385.1 302.3 384.5 303.7 384 305.1 383.5 306.5 383 307.9 382.5 309.4 382 310.8 381.5 312.2 381 313.6 380.5 315 380 316.4 379.5 317.8 379 319.3 378.5 320.7 378 322.1 377.4 323.5 376.9 324.9 376.4 326.3 375.9 327.7 375.4 329.1 374.9 330.6 374.4 332 373.9 333.4 373.4 334.8 372.9 336.2 372.3 337.6 371.7 339 371.1 340.3 370.5 341.7 369.8 343 369 344.3 368.3 345.6 367.5 346.9 366.6 348.1 365.7 349.3 364.8 350.5 363.9 351.7 363 352.9 362 354 361.1 355.2 360.1 356.4 358.8 357 357.3 356.7 356 356 354.8 355.2 353.6 354.3 352.4 353.4 351.3 352.4 350.2 351.4 349.1 350.3 348.1 349.2 347.2 348 346.3 346.8 345.4 345.6 344.6 344.3 343.9 343 343.2 341.7 342.6 340.3 342 338.9 341.4 337.5 340.8 336.2 340.3 334.8 339.7 333.4 339.2 332 338.7 330.6 338.2 329.1 337.6 327.7 337.1 326.3 336.5 324.9 336 323.6 335.4 322.2 334.8 320.8 334.2 319.4 333.6 318 333 316.7 332.4 315.3 331.8 313.9 331.2 312.5 330.6 311.2 330 309.8 329.4 308.4 328.8 307.1 328.2 305.7 327.5 304.3 326.9 303 326.2 301.7 325.5 300.3 324.7 299 324 297.7 323.2 296.4 322.4 295.2 321.6 293.9 320.7 292.7 319.9 291.5 319 290.3 318.1 289.1 317.1 287.9 316.2 286.7 315.2 285.6 314.3 284.4 313.3 283.3 312.3 282.2 311.3 281.1 310.2 280 309.2 278.9 308.1 277.8 307.1 276.8 306 275.7 304.9 274.7 303.7 273.8 302.5 272.8 301.3 271.9 300.1 271.1 298.9 270.2 297.6 269.4 296.4 268.6 295.1 267.8 293.8 267 292.6 266.2 291.3 265.4 290 264.6 288.8 263.8 287.5 262.9 286.3 262.1 285 261.3 283.8 260.4 282.5 259.6 281.3 258.8 280 258 278.7 257.2 277.5 256.4 276.2 255.7 274.9 254.9 273.5 254.2 272.2 253.5 270.8 252.9 269.5 252.3 268.1 251.7 266.7 251.2 265.3 250.6 263.9 250.1 262.4 249.6 261 249.2 259.6 248.7 258.2 248.3 256.7 247.9 255.3 247.5 253.8 247.1 252.4 246.7 250.9 246.3 249.5 246 248 245.7 246.5 245.3 245.1 245 243.6 244.7 242.1 244.5 240.6 244.2 239.2 244 237.7 243.8 236.2 243.6 234.7 243.4 233.2 243.3 231.7 243.1 230.2 243 228.7 242.9 227.2 242.8 225.7 242.7 224.2 242.6 222.7 242.5 221.2 242.4 219.7 242.3 218.2 242.2 216.7 242.1 215.2 242 213.7 241.9 212.2 241.8 210.8 241.7 209.3 241.6 207.8 241.6 206.3 241.5 204.8 241.4 203.3 241.3 201.8 241.2 200.3 241.2 198.8 241.1 197.3 241 195.8 240.9 194.3 240.9 192.8 240.8 191.3 240.7 189.8 240.7 188.3 240.6 186.8 240.5 185.3 240.5 183.8 240.4 182.3 240.3 180.8 240.3 179.3 240.2 177.8 240.1 176.3 240.1 174.8 240 173.3 240 171.8 239.9 170.3 239.9 168.8 239.8 167.3 239.8 165.8 239.8 164.3 239.8 162.8 239.7 161.3 239.7 159.8 239.7 158.3 239.7 156.8 239.7 155.3 239.7 153.8 239.8 152.3 239.8 150.8 239.8 149.3 239.8 147.8 239.8 146.3 239.9 144.8 239.9 143.3 239.9 142.2 239.9" fill="none" stroke="#ff2bff" stroke-width="2.15" stroke-linejoin="round"/>
<path d="M142.2 244.3L142.2 225.2L143.7 224.8 145.1 224.5 146.6 224.1 148 223.8 149.5 223.4 150.9 223 152.3 222.5 153.8 222 155.2 221.6 156.6 221.2 158.1 220.9 159.6 220.6 161.1 220.4 162.6 220.2 164 220 165.5 219.8 167 219.6 168.5 219.4 170 219.2 171.5 219 173 218.8 174.5 218.7 176 218.5 177.4 218.3 178.9 218.2 180.4 218 181.9 217.9 183.4 217.8 184.9 217.6 186.4 217.5 187.9 217.4 189.4 217.3 190.9 217.1 192.4 217 193.9 216.9 195.4 216.8 196.9 216.7 198.4 216.6 199.9 216.5 201.4 216.4 202.9 216.3 204.4 216.2 205.9 216.1 207.3 216 208.8 215.9 210.3 215.8 211.8 215.6 213.3 215.5 214.8 215.4 216.3 215.3 217.8 215.1 219.3 215 220.8 214.8 222.3 214.6 223.8 214.4 225.3 214.3 226.8 214.1 228.2 214 229.7 213.8 231.2 213.7 232.7 213.5 234.2 213.4 235.7 213.3 237.2 213.1 238.7 213 240.2 212.9 241.7 212.7 243.2 212.6 244.7 212.5 246.2 212.3 247.7 212.2 249.2 212.1 250.7 211.9 252.1 211.8 253.6 211.7 255.1 211.5 256.6 211.4 258.1 211.3 259.6 211.1 261.1 211 262.6 210.9 264.1 210.7 265.6 210.6 267.1 210.4 268.6 210.3 270.1 210.2 271.6 210 273.1 209.9 274.6 209.8 276.1 209.6 277.5 209.5 279 209.3 280.5 209.2 282 209 283.5 208.9 285 208.7 286.5 208.6 288 208.4 289.5 208.3 291 208.1 292.5 208 294 207.8 295.5 207.7 296.9 207.5 298.4 207.3 299.9 207.2 301.4 207 302.9 206.8 304.4 206.6 305.9 206.5 307.4 206.3 308.9 206.1 310.3 205.9 311.8 205.7 313.3 205.5 314.8 205.3 316.3 205.1 317.8 205 319.3 204.8 320.8 204.6 322.2 204.4 323.7 204.2 325.2 204 326.7 203.8 328.2 203.6 329.7 203.4 331.2 203.2 332.7 202.9 334.1 202.7 335.6 202.5 337.1 202.3 338.6 202.1 340.1 201.9 341.6 201.7 343.1 201.5 344.5 201.3 346 201.1 347.5 200.9 349 200.8 350.5 200.6 352 200.4 353.5 200.2 355 200 356.5 199.8 357.9 199.7 359.4 199.5 360.9 199.3 362.4 199.1 363.9 199 365.4 198.8 366.9 198.7 368.4 198.5 369.9 198.4 371.4 198.2 372.9 198.1 374.3 197.9 375.8 197.7 377.3 197.6 378.8 197.4 380.3 197.3 381.8 197.1 383.3 197 384.8 196.8 386.3 196.7 387.8 196.5 389.3 196.3 390.8 196.2 392.2 196 393.7 195.8 395.2 195.6 396.7 195.4 398.2 195.2 399.7 195 401.2 194.8 402.7 194.6 404.1 194.4 405.6 194.2 407.1 194 408.6 193.8 410.1 193.5 411.6 193.3 413 193.1 414.5 192.9 416 192.7 417.5 192.4 419 192.2 420.5 191.9 421.9 191.7 423.4 191.5 424.9 191.2 426.4 190.9 427.8 190.7 429.3 190.4 430.8 190.1 432.3 189.8 433.7 189.5 435.2 189.2 436.7 188.8 438.1 188.5 439.6 188.1 441 187.7 442.4 187.2 443.8 186.7 445.2 186.1 446.6 185.5 447.9 184.8 449.2 184 450.4 183.1 451.5 182.1 452.6 181.1 453.8 180.1 454.9 179.2 456 178.1 457.1 177.1 458.2 176 459.2 174.9 460.1 173.8 461.1 172.6 461.9 171.4 462.8 170.1 463.6 168.9 464.4 167.6 465.1 166.3 465.8 165 466.5 163.6 467.1 162.3 467.7 160.9 468.3 159.5 468.9 158.1 469.5 156.8 470 155.4 470.6 154 471.1 152.6 471.7 151.2 472.2 149.8 472.8 148.4 473.3 147 473.8 145.6 474.3 144.2 474.8 142.7 475.3 141.3 475.8 139.9 476.3 138.5 476.7 137.1 477.2 135.6 477.6 134.2 478.1 132.8 478.5 131.3 478.9 129.9 479.3 128.4 479.7 127 480.1 125.6 480.5 124.1 480.9 122.7 481.3 121.2 481.7 119.8 482.1 118.3 482.5 116.9 482.9 115.4 483.3 114 483.7 112.5 484 111.1 484.4 109.6 484.8 108.2 485.2 106.7 485.6 105.3 486 103.8 486.4 102.4 486.8 100.9 487.3 99.5 487.7 98.1 488.1 96.6 488.6 95.2 489 93.8 489.4 92.3 489.9 90.9 490.3 89.5 490.8 88 491.3 86.6 491.8 85.2 492.3 83.8 492.8 82.4 493.3 81 493.9 79.6 494.5 78.2 495.1 76.8 495.7 75.5 496.4 74.1 497 72.8 497.7 71.5 498.4 70.1 499.2 68.8 500 67.5 500.8 66.3 501.6 65 502.5 63.8 503.5 62.7 504.5 61.6 505.6 60.5 506.7 59.6 507.9 58.6 509.1 57.8 510.4 57 511.6 56.2 513 55.4 514.3 54.8 515.7 54.3 517.2 54.1 518.7 54.2 520.2 54.4 521.6 54.7 523.1 55 524.6 55.3 526 55.7 527.5 56.1 528.9 56.5 530.3 57 531.7 57.5 533.1 58 534.5 58.6 535.9 59.3 537.2 59.9 538.5 60.6 539.9 61.3 541.2 62 542.5 62.7 543.9 63.4 545.2 64 546.6 64.7 547.9 65.3 549.3 65.9 550.7 66.5 552.1 67.1 553.5 67.6 554.9 68.2 556.2 68.8 557.6 69.3 559 69.9 560.4 70.4 561.8 70.9 563.3 71.4 564.7 71.8 566.1 72.2 566.5 72.3L567.8 73.2 568.3 74.6 568.5 76.1 568.5 77.6 568.5 79.1 568.5 80.6 568.5 82.1 568.4 83.6 568.4 85.1 568.3 86.6 568.3 88.1 568.2 89.6 568.2 91.1 568.1 92.6 568.1 94.1 568 95.6 567.9 97.1 567.9 98.6 567.8 100.1 567.7 101.6 567.7 103.1 567.6 104.6 567.5 106.1 567.4 107.6 567.3 109 567.3 110.5 567.2 112 567.1 113.5 566.9 115 566.8 116.5 566.7 118 566.5 119.5 566.4 121 566.2 122.5 566.1 124 565.9 125.5 565.7 127 565.6 128.5 565.4 130 565.2 131.4 565 132.9 564.8 134.4 564.6 135.9 564.4 137.4 564.2 138.9 564 140.4 563.8 141.8 563.6 143.3 563.4 144.8 563.2 146.3 563 147.8 562.8 149.3 562.6 150.8 562.4 152.3 562.2 153.7 562 155.2 561.8 156.7 561.6 158.2 561.4 159.7 561.1 161.2 560.9 162.6 560.7 164.1 560.4 165.6 560.2 167.1 559.9 168.6 559.6 170 559.3 171.5 559 173 558.6 174.4 558.3 175.9 558 177.3 557.6 178.8 557.2 180.3 556.9 181.7 556.5 183.2 556.1 184.6 555.7 186.1 555.3 187.5 554.9 188.9 554.5 190.4 554.1 191.8 553.6 193.3 553.2 194.7 552.8 196.1 552.3 197.6 551.9 199 551.5 200.4 551 201.9 550.5 203.3 550.1 204.7 549.6 206.2 549.1 207.6 548.6 209 548.1 210.4 547.6 211.8 547.1 213.2 546.6 214.6 546.1 216 545.5 217.4 544.9 218.8 544.4 220.2 543.8 221.6 543.2 223 542.6 224.3 541.9 225.7 541.3 227.1 540.6 228.4 540 229.7 539.3 231.1 538.6 232.4 537.8 233.7 537 235 536.2 236.2 535.4 237.5 534.5 238.7 533.6 239.9 532.7 241.1 531.8 242.3 530.8 243.4 529.8 244.5 528.8 245.6 527.7 246.7 526.6 247.7 525.4 248.6 524.2 249.5 523 250.4 521.8 251.3 520.6 252.1 519.3 253 518 253.8 516.8 254.6 515.5 255.3 514.2 256.1 512.9 256.8 511.6 257.5 510.2 258.2 508.9 258.9 507.6 259.6 506.2 260.2 504.8 260.9 503.5 261.5 502.1 262 500.7 262.6 499.3 263.1 497.9 263.6 496.4 264.1 495 264.6 493.6 265 492.2 265.4 490.7 265.9 489.3 266.3 487.8 266.6 486.4 267 484.9 267.4 483.4 267.7 482 268.1 480.5 268.4 479.1 268.7 477.6 269 476.1 269.3 474.6 269.6 473.2 269.8 471.7 270.1 470.2 270.4 468.7 270.6 467.2 270.8 465.8 271 464.3 271.1 462.8 271.3 461.3 271.4 459.8 271.6 458.3 271.7 456.8 271.8 455.3 271.9 453.8 271.9 452.3 272 450.8 272.1 449.3 272.2 447.8 272.2 446.3 272.3 444.8 272.4 443.3 272.5 441.8 272.6 440.3 272.7 438.8 272.8 437.3 272.9 435.8 273 434.3 273.1 432.8 273.2 431.3 273.2 429.8 273.3 428.3 273.4 426.8 273.5 425.3 273.6 423.8 273.7 422.3 273.8 420.9 273.9 419.4 274 417.9 274.1 416.4 274.2 414.9 274.3 413.4 274.5 411.9 274.7 410.4 274.9 408.9 275.1 407.5 275.4 406 275.8 404.6 276.3 403.2 277 401.9 277.7 400.7 278.5 399.4 279.3 398.2 280.2 397.1 281.2 396.1 282.3 395.2 283.6 394.5 284.8 393.7 286.1 393 287.5 392.3 288.8 391.6 290.1 391 291.5 390.4 292.8 389.8 294.2 389.2 295.6 388.6 297 388.1 298.4 387.6 299.8 387.1 301.2 386.7 302.7 386.3 304.1 385.9 305.6 385.5 307 385.1 308.5 384.8 309.9 384.4 311.4 384.1 312.8 383.7 314.3 383.4 315.8 383 317.2 382.7 318.7 382.3 320.1 381.9 321.6 381.5 323 381.1 324.5 380.6 325.9 380.2 327.3 379.7 328.7 379.2 330.2 378.7 331.6 378.2 333 377.7 334.4 377.2 335.8 376.7 337.2 376.1 338.6 375.6 340 375.1 341.4 374.5 342.8 374 344.2 373.4 345.6 372.9 347 372.3 348.4 371.7 349.8 371.2 351.2 370.7 352.6 370.1 354 369.6 355.4 369 356.8 368.5 358.2 367.9 359.6 367.4 361 366.8 362.3 366.2 363.7 365.6 365.1 364.9 366.5 364.3 367.8 363.6 369.1 362.9 370.4 362.1 371.7 361.3 373 360.5 374.3 359.6 375.5 358.7 376.6 357.6 377.7 356.4 378.5 354.9 379 353.5 378.9 352.1 378.3 350.8 377.5 349.7 376.5 348.7 375.4 347.7 374.3 346.7 373.1 345.8 372 344.9 370.8 344 369.6 343.1 368.3 342.3 367.1 341.4 365.9 340.6 364.6 339.8 363.3 339 362.1 338.3 360.7 337.6 359.4 336.9 358.1 336.2 356.8 335.5 355.5 334.8 354.1 334 352.8 333.3 351.5 332.6 350.2 331.9 348.9 331.1 347.6 330.4 346.3 329.7 345 328.9 343.7 328.2 342.4 327.4 341 326.7 339.7 326 338.4 325.2 337.1 324.5 335.8 323.8 334.5 323.1 333.2 322.4 331.9 321.6 330.5 320.9 329.2 320.2 327.9 319.5 326.6 318.8 325.2 318.2 323.9 317.5 322.5 316.9 321.2 316.2 319.8 315.6 318.5 315 317.1 314.3 315.8 313.7 314.4 313 313.1 312.4 311.7 311.7 310.4 311 309 310.3 307.7 309.6 306.4 308.9 305 308.2 303.7 307.4 302.5 306.6 301.2 305.8 300 304.9 298.7 304 297.5 303.1 296.3 302.1 295.2 301.2 294 300.2 292.9 299.2 291.7 298.2 290.6 297.2 289.5 296.2 288.4 295.2 287.3 294.1 286.2 293.1 285.2 292 284.1 291 283 289.9 281.9 288.9 280.9 287.8 279.9 286.6 278.9 285.4 278.1 284.2 277.2 282.9 276.3 281.7 275.4 280.6 274.5 279.4 273.6 278.2 272.6 277 271.7 275.8 270.8 274.7 269.9 273.5 268.9 272.3 268 271.1 267.1 269.9 266.2 268.7 265.3 267.5 264.4 266.3 263.6 265 262.7 263.8 261.9 262.5 261 261.3 260.2 260 259.4 258.7 258.7 257.4 257.9 256.1 257.2 254.8 256.5 253.4 255.8 252.1 255.1 250.7 254.5 249.3 254 247.9 253.5 246.5 253 245.1 252.6 243.6 252.2 242.2 251.8 240.7 251.5 239.2 251.2 237.7 250.9 236.3 250.7 234.8 250.5 233.3 250.3 231.8 250.1 230.3 249.9 228.8 249.7 227.3 249.5 225.9 249.3 224.4 249.1 222.9 248.9 221.4 248.7 219.9 248.5 218.4 248.2 216.9 248 215.5 247.8 214 247.5 212.5 247.3 211 247 209.5 246.8 208.1 246.6 206.6 246.3 205.1 246.1 203.6 245.9 202.1 245.7 200.6 245.6 199.1 245.4 197.6 245.3 196.2 245.2 194.7 245 193.2 244.9 191.7 244.9 190.2 244.8 188.7 244.7 187.2 244.7 185.7 244.6 184.2 244.6 182.7 244.6 181.2 244.5 179.7 244.5 178.2 244.5 176.7 244.4 175.2 244.4 173.7 244.4 172.2 244.4 170.7 244.4 169.2 244.4 167.7 244.4 166.2 244.4 164.7 244.4 163.2 244.3 161.7 244.3 160.2 244.3 158.7 244.3 157.2 244.3 155.7 244.3 154.2 244.3 152.7 244.3 151.2 244.3 149.7 244.3 148.2 244.3 146.7 244.3 145.2 244.3 143.7 244.3 142.2 244.3" fill="none" stroke="#909832" stroke-width="2.0" stroke-linejoin="round"/>
</g>
<rect x="85.2" y="510.8" width="577.8" height="424.7" fill="none" stroke="#1a1a1a" stroke-width="1.9"/>
<g font-family='"Liberation Sans", sans-serif' font-size="16" fill="#202020" text-anchor="middle"><text x="85" y="958">0</text><text x="163.8" y="958">75</text><text x="242.5" y="958">150</text><text x="321.3" y="958">225</text><text x="400.1" y="958">300</text><text x="478.9" y="958">375</text><text x="557.6" y="958">450</text><text x="636.4" y="958">525</text></g>
<g font-family='"Liberation Sans", sans-serif' font-size="16.8" fill="#202020" text-anchor="end"><text x="74.8" y="939.7">0.0</text><text x="74.8" y="874.5">0.2</text><text x="74.8" y="809.2">0.4</text><text x="74.8" y="744">0.6</text><text x="74.8" y="678.7">0.8</text><text x="74.8" y="613.5">1.0</text><text x="74.8" y="548.2">1.2</text></g>
<text x="374.2" y="992.5" font-family='"Liberation Serif", serif' font-size="20" fill="#202020" text-anchor="middle">Time/sec</text>
<g transform="translate(35.8 722.7) rotate(-90) scale(1 1.12)"><text x="0" y="0" font-family='"Liberation Serif", serif' font-size="19.8" fill="#202020" text-anchor="middle">Potential/V(Hg/HgO)</text></g>
<text x="0.5" y="515.5" font-family='"Liberation Serif", serif' font-size="29" font-weight="bold" fill="#111">(b)</text>
<path d="M86 740L90.6 740L91 800L86 800Z" fill="#f7f2dc"/>
<path d="M86 674L88.3 674L90.6 690L91.4 705L91.3 740L86 740Z" fill="#cbbd8f"/>
<path d="M124.4 935.5V931M163.8 935.5V927.5M203.2 935.5V931M242.5 935.5V927.5M281.9 935.5V931M321.3 935.5V927.5M360.7 935.5V931M400.1 935.5V927.5M439.5 935.5V931M478.9 935.5V927.5M518.2 935.5V931M557.6 935.5V927.5M597 935.5V931M636.4 935.5V927.5M85.2 902.9H90.2M85.2 870.2H94.2M85.2 837.6H90.2M85.2 805H94.2M85.2 772.4H90.2M85.2 739.8H94.2M85.2 707.1H90.2M85.2 674.5H94.2M85.2 641.9H90.2M85.2 609.2H94.2M85.2 576.6H90.2M85.2 544H94.2" stroke="#1a1a1a" stroke-width="1.9" fill="none"/>
<path d="M85.2 510.8V935.5" stroke="#1a1a1a" stroke-width="1.9"/>
<path d="M86.3 546.9L86.9 548.3 87.6 549.6 88.2 551 88.9 552.3 89.5 553.7 90.2 555 90.8 556.4 91.5 557.7 92.1 559.1 92.7 560.4 93.4 561.8 94 563.2 94.6 564.5 95.2 565.9 95.8 567.3 96.5 568.6 97.1 570 97.8 571.3 98.5 572.7 99.2 574 100 575.3 100.7 576.5 101.6 577.8 102.4 579.1 103.2 580.3 104 581.6 104.9 582.8 105.7 584 106.6 585.3 107.4 586.5 108.2 587.8 109 589 109.8 590.3 110.7 591.6 111.5 592.8 112.3 594.1 113.1 595.4 113.9 596.6 114.7 597.9 115.5 599.1 116.3 600.4 117.1 601.7 118 602.9 118.8 604.2 119.6 605.4 120.5 606.6 121.4 607.8 122.3 609 123.3 610.2 124.2 611.3 125.2 612.5 126.1 613.7 127.1 614.8 128 616 129 617.1 130 618.3 130.9 619.4 131.9 620.6 132.8 621.8 133.7 622.9 134.6 624.1 135.5 625.3 136.4 626.6 137.3 627.8 138.3 628.9 139.3 630 140.4 631 141.5 632 142.7 633 143.8 633.9 145 634.8 146.2 635.7 147.5 636.6 148.7 637.4 150 638.2 151.3 638.9 152.7 639.5 154.1 640.1 155.5 640.7 156.9 641.2 158.3 641.6 159.7 642 161.2 642.4 162.7 642.7 164.1 643 165.6 643.3 167.1 643.6 168.6 643.8 170 644.1 171.5 644.3 173 644.6 174.5 644.8 176 645.1 177.4 645.4 178.9 645.7 180.4 645.9 181.9 646.2 183.3 646.4 184.8 646.7 186.3 646.9 187.8 647.2 189.3 647.4 190.7 647.6 192.2 647.9 193.7 648.1 195.2 648.3 196.7 648.5 198.2 648.7 199.6 648.9 201.1 649.1 202.6 649.3 204.1 649.5 205.6 649.7 207.1 649.9 208.6 650.1 210.1 650.2 211.6 650.4 213 650.6 214.5 650.7 216 650.9 217.5 651.1 219 651.2 220.5 651.4 222 651.6 223.5 651.7 225 651.9 226.5 652.1 227.9 652.3 229.4 652.4 230.9 652.6 232.4 652.8 233.9 653 235.4 653.2 236.9 653.4 238.4 653.6 239.9 653.8 241.3 654 242.8 654.2 244.3 654.4 245.8 654.6 247.3 654.8 248.8 655 250.3 655.2 251.7 655.4 253.2 655.6 254.7 655.8 256.2 656 257.7 656.2 259.2 656.5 260.6 656.7 262.1 656.9 263.6 657.1 265.1 657.4 266.6 657.6 268.1 657.8 269.5 658.1 271 658.3 272.5 658.5 274 658.8 275.5 659 276.9 659.3 278.4 659.5 279.9 659.8 281.4 660 282.9 660.3 284.3 660.5 285.8 660.8 287.3 661 288.8 661.3 290.3 661.5 291.7 661.8 293.2 662.1 294.7 662.3 296.2 662.6 297.6 662.9 299.1 663.1 300.6 663.4 302.1 663.7 303.5 663.9 305 664.2 306.5 664.5 308 664.8 309.4 665 310.9 665.3 312.4 665.6 313.9 665.9 315.3 666.1 316.8 666.4 318.3 666.7 319.8 667 321.2 667.3 322.7 667.5 324.2 667.8 325.6 668.1 327.1 668.4 328.6 668.7 330.1 669 331.5 669.2 333 669.5 334.5 669.8 336 670.1 337.4 670.4 338.9 670.7 340.4 671 341.8 671.3 343.3 671.6 344.8 672 346.2 672.3 347.7 672.6 349.2 672.9 350.6 673.2 352.1 673.5 353.6 673.8 355 674.2 356.5 674.5 358 674.8 359.4 675.2 360.9 675.5 362.3 675.8 363.8 676.2 365.3 676.5 366.7 676.9 368.2 677.3 369.6 677.7 371.1 678.1 372.5 678.5 373.9 678.9 375.4 679.4 376.8 679.8 378.2 680.3 379.7 680.7 381.1 681.2 382.5 681.7 383.9 682.2 385.3 682.7 386.7 683.2 388.1 683.7 389.5 684.3 390.9 684.8 392.3 685.3 393.7 685.9 395.1 686.4 396.5 687 397.9 687.6 399.3 688.1 400.7 688.7 402.1 689.3 403.4 689.9 404.8 690.5 406.2 691.1 407.6 691.7 408.9 692.3 410.3 692.9 411.7 693.6 413 694.2 414.4 694.9 415.7 695.5 417.1 696.2 418.4 696.8 419.8 697.5 421.1 698.2 422.4 698.9 423.7 699.6 425.1 700.3 426.4 701 427.7 701.8 429 702.5 430.3 703.3 431.6 704 432.9 704.8 434.2 705.5 435.5 706.3 436.7 707.1 438 707.8 439.3 708.6 440.6 709.3 441.9 710.1 443.2 710.8 444.5 711.5 445.9 712.3 447.2 713 448.5 713.7 449.8 714.4 451.1 715.1 452.5 715.8 453.8 716.6 455.1 717.3 456.4 718 457.7 718.8 459 719.6 460.3 720.3 461.5 721.1 462.8 721.9 464 722.8 465.3 723.6 466.5 724.5 467.7 725.4 468.9 726.3 470.1 727.2 471.2 728.1 472.4 729.1 473.5 730.1 474.7 731.1 475.8 732.1 476.9 733.1 478 734.1 479.1 735.1 480.2 736.2 481.2 737.2 482.3 738.3 483.4 739.3 484.4 740.4 485.5 741.4 486.5 742.5 487.6 743.6 488.6 744.7 489.7 745.8 490.7 746.9 491.7 748 492.7 749 493.8 750.2 494.8 751.3 495.8 752.4 496.8 753.5 497.8 754.6 498.8 755.7 499.8 756.8 500.8 757.9 501.8 759.1 502.8 760.2 503.7 761.3 504.7 762.5 505.7 763.7 506.6 764.8 507.5 766 508.5 767.2 509.4 768.4 510.3 769.5 511.2 770.7 512.1 771.9 513 773.1 513.9 774.4 514.8 775.6 515.7 776.8 516.5 778 517.4 779.2 518.3 780.4 519.2 781.6 520.1 782.8 521 784 521.9 785.2 522.8 786.5 523.6 787.7 524.5 788.9 525.4 790.1 526.3 791.3 527.2 792.5 528.1 793.7 529 794.9 529.8 796.1 530.7 797.4 531.6 798.6 532.4 799.8 533.3 801 534.2 802.3 535 803.5 535.9 804.7 536.7 806 537.5 807.2 538.4 808.5 539.2 809.7 540 811 540.8 812.3 541.6 813.5 542.4 814.8 543.2 816.1 543.9 817.4 544.7 818.7 545.4 820 546.2 821.3 546.9 822.6 547.6 823.9 548.4 825.2 549.1 826.5 549.8 827.8 550.5 829.2 551.2 830.5 551.9 831.8 552.6 833.1 553.3 834.5 554 835.8 554.7 837.1 555.4 838.5 556.1 839.8 556.8 841.1 557.5 842.4 558.2 843.8 558.9 845.1 559.6 846.4 560.3 847.7 561.1 849 561.8 850.4 562.5 851.7 563.2 853 563.9 854.3 564.6 855.7 565.3 857 565.9 858.3 566.6 859.7 567.3 861 568 862.3 568.7 863.6 569.4 865 570.1 866.3 570.9 867.6 571.6 868.9 572.3 870.2 573 871.6 573.8 872.9 574.5 874.2 575.2 875.5 576 876.8 576.8 878 577.6 879.3 578.3 880.6 579.1 881.9 580 883.1 580.8 884.4 581.6 885.7 582.4 886.9 583.2 888.2 584.1 889.4 584.9 890.6 585.8 891.9 586.6 893.1 587.5 894.3 588.4 895.6 589.2 896.8 590.1 898 591 899.2 591.9 900.4 592.8 901.6 593.7 902.8 594.5 904 595.4 905.3 596.3 906.5 597.2 907.7 598.1 908.8 599.1 910 600 911.2 600.9 912.4 601.8 913.6 602.7 914.8 603.7 915.9 604.6 917.1 605.6 918.3 606.5 919.4 607.5 920.6 608.4 921.7 609.4 922.9 610.4 924 611.3 925.2 612.3 926.3 613.3 927.5 614.2 928.6 615.2 929.8 616.2 930.9 617.1 932.1 618.1 933.2 619.1 934.4 619.6 935" fill="none" stroke="#1c1c1c" stroke-width="2.0" stroke-linejoin="round"/>
<path d="M86.3 546.9L86.9 548.3 87.6 549.6 88.2 551 88.9 552.3 89.5 553.7 90.2 555 90.8 556.4 91.5 557.7 92.1 559.1 92.7 560.4 93.4 561.8 94 563.2 94.7 564.5 95.3 565.9 95.9 567.2 96.6 568.6 97.2 570 97.8 571.3 98.5 572.7 99.1 574 99.7 575.4 100.4 576.7 101 578.1 101.7 579.4 102.3 580.8 103 582.2 103.6 583.5 104.2 584.9 104.9 586.2 105.5 587.6 106.1 589 106.8 590.3 107.4 591.7 108 593 108.7 594.4 109.3 595.7 110 597.1 110.7 598.4 111.4 599.7 112.2 601 112.9 602.3 113.6 603.7 114.3 605 115.1 606.3 115.8 607.6 116.5 608.9 117.2 610.2 117.9 611.6 118.6 612.9 119.2 614.3 119.9 615.6 120.5 617 121.2 618.3 121.9 619.6 122.6 621 123.3 622.3 124 623.6 124.8 624.9 125.5 626.2 126.3 627.5 127.1 628.8 127.8 630.1 128.6 631.3 129.4 632.6 130.2 633.9 131 635.2 131.8 636.4 132.6 637.7 133.5 638.9 134.4 640.1 135.5 641.2 136.6 642.2 137.8 643.1 139 643.9 140.3 644.6 141.7 645.3 143.1 645.8 144.5 646.4 145.9 646.9 147.3 647.3 148.8 647.8 150.2 648.2 151.7 648.6 153.1 648.9 154.6 649.3 156 649.6 157.5 650 158.9 650.3 160.4 650.7 161.8 651.1 163.3 651.4 164.8 651.8 166.2 652.2 167.7 652.6 169.1 653 170.6 653.3 172 653.7 173.5 654.1 174.9 654.5 176.4 654.8 177.8 655.2 179.3 655.6 180.7 655.9 182.2 656.3 183.7 656.6 185.1 657 186.6 657.3 188 657.7 189.5 658 190.9 658.4 192.4 658.8 193.8 659.2 195.3 659.6 196.7 660.1 198.1 660.5 199.6 661 201 661.4 202.4 661.9 203.8 662.4 205.3 662.8 206.7 663.3 208.1 663.8 209.5 664.2 211 664.7 212.4 665.2 213.8 665.7 215.2 666.2 216.6 666.7 218 667.3 219.4 667.8 220.8 668.4 222.2 669 223.5 669.7 224.9 670.3 226.2 671 227.5 671.7 228.8 672.4 230.1 673.2 231.4 674 232.7 674.8 233.9 675.6 235.2 676.4 236.4 677.3 237.6 678.2 238.8 679.1 240 679.9 241.2 680.9 242.4 681.8 243.6 682.7 244.8 683.6 245.9 684.6 247.1 685.6 248.2 686.5 249.4 687.5 250.5 688.5 251.6 689.4 252.8 690.4 253.9 691.4 255 692.4 256.1 693.4 257.2 694.5 258.3 695.5 259.4 696.5 260.5 697.5 261.6 698.6 262.7 699.6 263.7 700.7 264.8 701.7 265.9 702.8 266.9 703.9 267.9 705 268.9 706.1 270 707.2 271 708.3 271.9 709.4 272.9 710.6 273.9 711.7 274.8 712.9 275.8 714 276.7 715.2 277.6 716.4 278.5 717.6 279.4 718.8 280.3 720 281.2 721.2 282.1 722.4 283 723.7 283.8 724.9 284.7 726.1 285.5 727.4 286.3 728.6 287.2 729.9 288 731.1 288.8 732.4 289.6 733.7 290.4 734.9 291.1 736.2 291.9 737.5 292.7 738.8 293.4 740.1 294.1 741.4 294.9 742.7 295.6 744 296.3 745.4 297 746.7 297.7 748 298.3 749.4 299 750.7 299.6 752.1 300.3 753.4 300.9 754.8 301.5 756.2 302.1 757.6 302.6 758.9 303.2 760.3 303.7 761.7 304.3 763.1 304.8 764.5 305.3 766 305.8 767.4 306.3 768.8 306.8 770.2 307.3 771.6 307.7 773.1 308.2 774.5 308.7 775.9 309.1 777.3 309.6 778.8 310 780.2 310.4 781.6 310.9 783.1 311.3 784.5 311.8 785.9 312.2 787.4 312.6 788.8 313 790.3 313.4 791.7 313.8 793.1 314.3 794.6 314.6 796 315 797.5 315.4 798.9 315.8 800.4 316.2 801.8 316.6 803.3 317 804.7 317.4 806.2 317.7 807.6 318.1 809.1 318.5 810.5 318.9 812 319.3 813.4 319.6 814.9 320 816.3 320.4 817.8 320.7 819.2 321.1 820.7 321.5 822.2 321.9 823.6 322.2 825.1 322.6 826.5 323 828 323.4 829.4 323.7 830.9 324.1 832.3 324.5 833.8 324.8 835.2 325.2 836.7 325.6 838.1 325.9 839.6 326.3 841.1 326.6 842.5 327 844 327.4 845.4 327.7 846.9 328.1 848.3 328.4 849.8 328.8 851.3 329.1 852.7 329.5 854.2 329.9 855.6 330.2 857.1 330.6 858.5 330.9 860 331.3 861.4 331.7 862.9 332.1 864.4 332.4 865.8 332.8 867.3 333.2 868.7 333.6 870.2 333.9 871.6 334.3 873.1 334.7 874.5 335.1 876 335.4 877.4 335.8 878.9 336.2 880.3 336.6 881.8 337 883.2 337.4 884.7 337.8 886.1 338.2 887.6 338.6 889 339 890.5 339.4 891.9 339.8 893.3 340.2 894.8 340.6 896.2 341.1 897.7 341.5 899.1 341.9 900.5 342.4 901.9 342.8 903.4 343.3 904.8 343.8 906.2 344.2 907.7 344.7 909.1 345.2 910.5 345.7 911.9 346.1 913.4 346.6 914.8 347.1 916.2 347.6 917.6 348.1 919 348.5 920.5 349 921.9 349.5 923.3 350 924.7 350.5 926.1 351 927.5 351.5 929 352 930.4 352.4 931.8 352.9 933.2 353.4 934.6 353.5 934.9" fill="none" stroke="#ff2222" stroke-width="2.0" stroke-linejoin="round"/>
<path d="M85.6 549L85.7 550.5 85.8 552 85.9 553.5 86.1 555 86.2 556.5 86.3 558 86.4 559.5 86.5 561 86.6 562.5 86.7 564 86.9 565.5 87 566.9 87.1 568.4 87.3 569.9 87.4 571.4 87.5 572.9 87.7 574.4 87.9 575.9 88.1 577.4 88.3 578.9 88.5 580.4 88.8 581.8 89 583.3 89.3 584.8 89.6 586.3 89.9 587.7 90.3 589.2 90.6 590.6 91 592.1 91.3 593.6 91.6 595 91.9 596.5 92.3 598 92.6 599.4 92.9 600.9 93.3 602.3 93.6 603.8 94 605.3 94.3 606.7 94.6 608.2 94.9 609.7 95.2 611.1 95.5 612.6 95.8 614.1 96.1 615.5 96.4 617 96.7 618.5 97 620 97.3 621.4 97.5 622.9 97.8 624.4 98.1 625.8 98.4 627.3 98.7 628.8 99 630.3 99.4 631.7 99.7 633.2 100.1 634.6 100.4 636.1 100.8 637.5 101.2 639 101.6 640.4 102 641.9 102.4 643.3 102.8 644.8 103.2 646.2 103.6 647.7 104.2 649.1 104.8 650.4 105.6 651.7 106.5 652.9 107.5 654 108.7 654.9 109.8 655.9 110.9 657 112 658 113 659.1 114.1 660.1 115.2 661.2 116.2 662.2 117.3 663.3 118.3 664.4 119.3 665.5 120.4 666.5 121.4 667.6 122.4 668.7 123.4 669.8 124.4 671 125.4 672.1 126.4 673.3 127.3 674.4 128.2 675.6 129.1 676.9 130 678.1 130.8 679.3 131.7 680.5 132.5 681.8 133.3 683.1 134.1 684.3 134.8 685.6 135.5 687 136.2 688.3 136.8 689.7 137.5 691 138 692.4 138.6 693.8 139.2 695.2 139.7 696.6 140.3 698 140.9 699.3 141.5 700.7 142.2 702.1 142.8 703.4 143.5 704.8 144.1 706.1 144.8 707.4 145.4 708.8 146.1 710.2 146.7 711.5 147.3 712.9 147.9 714.3 148.4 715.7 148.9 717.1 149.4 718.5 149.9 719.9 150.3 721.4 150.8 722.8 151.2 724.2 151.6 725.7 152 727.1 152.4 728.6 152.7 730 153.1 731.5 153.5 732.9 153.9 734.4 154.2 735.9 154.6 737.3 155 738.8 155.4 740.2 155.8 741.7 156.1 743.1 156.5 744.6 156.8 746 157.2 747.5 157.5 749 157.8 750.4 158.1 751.9 158.4 753.4 158.6 754.8 158.9 756.3 159.1 757.8 159.4 759.3 159.6 760.8 159.8 762.3 160 763.7 160.1 765.2 160.3 766.7 160.5 768.2 160.7 769.7 160.8 771.2 161 772.7 161.1 774.2 161.3 775.7 161.4 777.2 161.6 778.7 161.7 780.2 161.8 781.6 162 783.1 162.1 784.6 162.2 786.1 162.4 787.6 162.5 789.1 162.7 790.6 162.8 792.1 162.9 793.6 163.1 795.1 163.2 796.6 163.3 798.1 163.5 799.6 163.6 801.1 163.7 802.6 163.9 804.1 164 805.5 164.2 807 164.3 808.5 164.5 810 164.6 811.5 164.8 813 164.9 814.5 165.1 816 165.2 817.5 165.4 819 165.5 820.5 165.7 822 165.8 823.5 166 824.9 166.1 826.4 166.3 827.9 166.4 829.4 166.6 830.9 166.7 832.4 166.9 833.9 167 835.4 167.2 836.9 167.3 838.4 167.5 839.9 167.6 841.4 167.8 842.9 167.9 844.3 168.1 845.8 168.2 847.3 168.4 848.8 168.5 850.3 168.7 851.8 168.9 853.3 169 854.8 169.2 856.3 169.3 857.8 169.5 859.3 169.6 860.8 169.8 862.3 170 863.7 170.1 865.2 170.3 866.7 170.4 868.2 170.6 869.7 170.8 871.2 170.9 872.7 171.1 874.2 171.3 875.7 171.4 877.2 171.6 878.7 171.8 880.1 171.9 881.6 172.1 883.1 172.2 884.6 172.4 886.1 172.6 887.6 172.8 889.1 172.9 890.6 173.1 892.1 173.3 893.6 173.4 895.1 173.6 896.5 173.8 898 173.9 899.5 174.1 901 174.3 902.5 174.5 904 174.6 905.5 174.8 907 175 908.5 175.2 909.9 175.4 911.4 175.5 912.9 175.7 914.4 175.9 915.9 176.1 917.4 176.3 918.9 176.5 920.4 176.7 921.9 176.8 923.3 177 924.8 177.2 926.3 177.4 927.8 177.6 929.3 177.8 930.8 178 932.3 178.1 933.8 178.3 935" fill="none" stroke="#2a2aff" stroke-width="2.0" stroke-linejoin="round"/>
<path d="M85.6 555L85.6 556.5 85.7 558 85.7 559.5 85.7 561 85.8 562.5 85.8 564 85.8 565.5 85.9 567 85.9 568.5 85.9 570 86 571.5 86 573 86 574.5 86.1 576 86.1 577.5 86.2 579 86.2 580.5 86.2 582 86.3 583.5 86.3 585 86.4 586.5 86.4 588 86.5 589.5 86.5 591 86.6 592.5 86.7 594 86.7 595.5 86.8 597 86.8 598.5 86.9 600 87 601.5 87.1 603 87.1 604.5 87.2 606 87.3 607.5 87.4 609 87.4 610.5 87.5 612 87.6 613.5 87.7 615 87.8 616.5 87.9 618 88 619.5 88.1 620.9 88.2 622.4 88.3 623.9 88.4 625.4 88.5 626.9 88.6 628.4 88.7 629.9 88.8 631.4 88.9 632.9 89.1 634.4 89.2 635.9 89.3 637.4 89.4 638.9 89.6 640.4 89.7 641.9 89.8 643.4 90 644.9 90.1 646.4 90.3 647.9 90.5 649.3 90.6 650.8 90.8 652.3 91 653.8 91.2 655.3 91.5 656.8 91.7 658.3 92 659.7 92.2 661.2 92.5 662.7 92.8 664.2 93.1 665.6 93.4 667.1 93.8 668.6 94.1 670 94.4 671.5 94.8 672.9 95.1 674.4 95.5 675.9 95.8 677.3 96.2 678.8 96.6 680.2 97 681.7 97.4 683.1 97.8 684.5 98.3 686 98.7 687.4 99.1 688.8 99.5 690.3 99.9 691.7 100.3 693.2 100.7 694.6 101 696.1 101.4 697.6 101.7 699 102 700.5 102.3 702 102.6 703.4 102.8 704.9 103 706.4 103.3 707.9 103.5 709.4 103.6 710.9 103.8 712.4 104 713.8 104.1 715.3 104.3 716.8 104.4 718.3 104.5 719.8 104.7 721.3 104.8 722.8 104.9 724.3 105.1 725.8 105.2 727.3 105.3 728.8 105.5 730.3 105.6 731.8 105.7 733.3 105.8 734.8 105.9 736.3 106.1 737.8 106.2 739.3 106.3 740.7 106.4 742.2 106.5 743.7 106.6 745.2 106.7 746.7 106.8 748.2 106.9 749.7 107 751.2 107.1 752.7 107.2 754.2 107.4 755.7 107.5 757.2 107.6 758.7 107.7 760.2 107.8 761.7 107.9 763.2 108 764.7 108.1 766.2 108.2 767.7 108.3 769.2 108.4 770.7 108.5 772.2 108.6 773.7 108.7 775.2 108.8 776.7 108.9 778.2 109 779.6 109.1 781.1 109.2 782.6 109.3 784.1 109.4 785.6 109.5 787.1 109.6 788.6 109.7 790.1 109.8 791.6 109.9 793.1 110 794.6 110.1 796.1 110.2 797.6 110.3 799.1 110.3 800.6 110.4 802.1 110.5 803.6 110.6 805.1 110.7 806.6 110.8 808.1 110.8 809.6 110.9 811.1 111 812.6 111.1 814.1 111.2 815.6 111.2 817.1 111.3 818.6 111.4 820.1 111.5 821.6 111.5 823.1 111.6 824.6 111.7 826.1 111.7 827.6 111.8 829.1 111.9 830.6 111.9 832.1 112 833.6 112.1 835.1 112.1 836.6 112.2 838.1 112.3 839.6 112.3 841.1 112.4 842.6 112.5 844.1 112.5 845.6 112.6 847.1 112.7 848.6 112.7 850 112.8 851.5 112.8 853 112.9 854.5 113 856 113 857.5 113.1 859 113.1 860.5 113.2 862 113.2 863.5 113.3 865 113.3 866.5 113.4 868 113.4 869.5 113.5 871 113.5 872.5 113.6 874 113.6 875.5 113.7 877 113.7 878.5 113.8 880 113.8 881.5 113.9 883 113.9 884.5 114 886 114 887.5 114.1 889 114.1 890.5 114.2 892 114.2 893.5 114.3 895 114.3 896.5 114.4 898 114.4 899.5 114.5 901 114.5 902.5 114.5 904 114.6 905.5 114.6 907 114.7 908.5 114.7 910 114.8 911.5 114.8 913 114.8 914.5 114.9 916 114.9 917.5 115 919 115 920.5 115 922 115.1 923.5 115.1 925 115.2 926.5 115.2 928 115.2 929.5 115.3 931 115.3 932.5 115.4 934 115.4 935" fill="none" stroke="#1f8e8e" stroke-width="2.0" stroke-linejoin="round"/>
<path d="M85.6 552L85.6 553.5 85.6 555 85.7 556.5 85.7 558 85.7 559.5 85.7 561 85.7 562.5 85.8 564 85.8 565.5 85.8 567 85.8 568.5 85.8 570 85.9 571.5 85.9 573 85.9 574.5 85.9 576 85.9 577.5 86 579 86 580.5 86 582 86 583.5 86.1 585 86.1 586.5 86.1 588 86.1 589.5 86.1 591 86.2 592.5 86.2 594 86.2 595.5 86.2 597 86.3 598.5 86.3 600 86.3 601.5 86.4 603 86.4 604.5 86.4 606 86.4 607.5 86.5 609 86.5 610.5 86.5 612 86.6 613.5 86.6 615 86.6 616.5 86.7 618 86.7 619.5 86.7 621 86.8 622.5 86.8 624 86.8 625.5 86.9 627 86.9 628.5 86.9 630 87 631.5 87 633 87.1 634.5 87.1 636 87.1 637.5 87.2 639 87.2 640.5 87.3 642 87.3 643.5 87.3 645 87.4 646.5 87.4 648 87.5 649.5 87.5 651 87.6 652.5 87.6 654 87.7 655.5 87.8 657 87.9 658.5 88 660 88.1 661.5 88.2 663 88.4 664.5 88.5 665.9 88.6 667.4 88.8 668.9 88.9 670.4 89 671.9 89.2 673.4 89.3 674.9 89.5 676.4 89.6 677.9 89.8 679.4 89.9 680.9 90.1 682.4 90.2 683.9 90.3 685.4 90.5 686.9 90.6 688.3 90.8 689.8 91 691.3 91.2 692.8 91.4 694.3 91.6 695.8 91.7 697.3 91.7 698.8 91.8 700.3 91.9 701.8 91.9 703.3 92 704.8 92 706.3 92.1 707.8 92.2 709.3 92.2 710.8 92.3 712.3 92.3 713.8 92.4 715.3 92.4 716.8 92.5 718.3 92.5 719.8 92.5 721.3 92.6 722.8 92.6 724.3 92.7 725.8 92.7 727.3 92.8 728.8 92.8 730.3 92.9 731.8 92.9 733.3 92.9 734.8 93 736.3 93 737.8 93.1 739.3 93.1 740.8 93.1 742.3 93.2 743.8 93.2 745.3 93.3 746.8 93.3 748.3 93.3 749.8 93.4 751.3 93.4 752.8 93.5 754.3 93.5 755.8 93.5 757.3 93.6 758.8 93.6 760.3 93.6 761.8 93.7 763.2 93.7 764.7 93.7 766.2 93.8 767.7 93.8 769.2 93.8 770.7 93.9 772.2 93.9 773.7 93.9 775.2 94 776.7 94 778.2 94 779.7 94.1 781.2 94.1 782.7 94.1 784.2 94.2 785.7 94.2 787.2 94.2 788.7 94.3 790.2 94.3 791.7 94.3 793.2 94.4 794.7 94.4 796.2 94.4 797.7 94.5 799.2 94.5 800.7 94.5 802.2 94.5 803.7 94.6 805.2 94.6 806.7 94.6 808.2 94.7 809.7 94.7 811.2 94.7 812.7 94.8 814.2 94.8 815.7 94.8 817.2 94.9 818.7 94.9 820.2 94.9 821.7 95 823.2 95 824.7 95 826.2 95.1 827.7 95.1 829.2 95.1 830.7 95.1 832.2 95.2 833.7 95.2 835.2 95.2 836.7 95.3 838.2 95.3 839.7 95.3 841.2 95.4 842.7 95.4 844.2 95.4 845.7 95.4 847.2 95.5 848.7 95.5 850.2 95.5 851.7 95.6 853.2 95.6 854.7 95.6 856.2 95.7 857.7 95.7 859.2 95.7 860.7 95.7 862.2 95.8 863.7 95.8 865.2 95.8 866.7 95.9 868.2 95.9 869.7 95.9 871.2 96 872.7 96 874.2 96 875.7 96.1 877.2 96.1 878.7 96.1 880.2 96.2 881.7 96.2 883.2 96.2 884.7 96.3 886.2 96.3 887.7 96.3 889.2 96.4 890.7 96.4 892.2 96.4 893.7 96.5 895.2 96.5 896.7 96.5 898.2 96.6 899.7 96.6 901.2 96.6 902.7 96.7 904.2 96.7 905.7 96.8 907.2 96.8 908.7 96.9 910.2 96.9 911.7 96.9 913.2 97 914.7 97 916.2 97.1 917.7 97.1 919.2 97.2 920.7 97.2 922.2 97.3 923.7 97.3 925.2 97.3 926.7 97.4 928.2 97.4 929.7 97.5 931.2 97.5 932.7 97.6 934.2 97.6 935" fill="none" stroke="#ff2bff" stroke-width="2.0" stroke-linejoin="round"/>
<path d="M86.3 570L86.3 571.5 86.3 573 86.3 574.5 86.4 576 86.4 577.5 86.4 579 86.4 580.5 86.4 582 86.4 583.5 86.4 585 86.5 586.5 86.5 588 86.5 589.5 86.5 591 86.5 592.5 86.5 594 86.5 595.5 86.6 597 86.6 598.5 86.6 600 86.6 601.5 86.6 603 86.6 604.5 86.6 606 86.7 607.5 86.7 609 86.7 610.5 86.7 612 86.7 613.5 86.7 615 86.8 616.5 86.8 618 86.8 619.5 86.8 621 86.8 622.5 86.9 624 86.9 625.5 86.9 627 86.9 628.5 86.9 630 86.9 631.5 87 633 87 634.5 87 636 87 637.5 87.1 639 87.1 640.5 87.1 642 87.2 643.5 87.2 645 87.2 646.5 87.3 648 87.3 649.5 87.3 651 87.4 652.5 87.4 654 87.4 655.5 87.5 657 87.5 658.5 87.6 660 87.6 661.5 87.7 663 87.7 664.5 87.8 666 87.8 667.5 87.9 669 88 670.5 88.1 672 88.2 673.5 88.3 675 88.4 676.5 88.6 678 88.8 679.4 89 680.9 89.2 682.4 89.5 683.9 89.7 685.4 89.9 686.9 90.1 688.3 90.3 689.8 90.4 691.3 90.6 692.8 90.7 694.3 90.8 695.8 90.9 697.3 91 698.8 91.1 700.3 91.1 701.8 91.2 703.3 91.2 704.8 91.2 706.3 91.2 707.8 91.2 709.3 91.2 710.8 91.2 712.3 91.2 713.8 91.2 715.3 91.2 716.8 91.2 718.3 91.1 719.8 91.1 721.3 91.1 722.8 91.1 724.3 91.1 725.8 91.1 727.3 91 728.8 91 730.3 91 731.8 91 733.3 91 734.8 91 736.3 91 737.8 91 739.3 91 740.8 91 742.3 91 743.8 91 745.3 91 746.8 91 748.3 91 749.8 91 751.3 91 752.8 91 754.3 91 755.8 91.1 757.3 91.1 758.8 91.1 760.3 91.1 761.8 91.1 763.3 91.1 764.8 91.1 766.3 91.1 767.8 91.1 769.3 91.1 770.8 91.1 772.3 91.1 773.8 91.1 775.3 91.2 776.8 91.2 778.3 91.2 779.8 91.2 781.3 91.2 782.8 91.2 784.3 91.2 785.8 91.2 787.3 91.2 788.8 91.2 790.3 91.2 791.8 91.3 793.3 91.3 794.8 91.3 796.3 91.3 797.8 91.3 799.3 91.3 800.8 91.3 802.3 91.3 803.8 91.3 805.3 91.3 806.8 91.4 808.3 91.4 809.8 91.4 811.3 91.4 812.8 91.4 814.3 91.4 815.8 91.4 817.3 91.4 818.8 91.4 820.3 91.4 821.8 91.5 823.3 91.5 824.8 91.5 826.3 91.5 827.8 91.5 829.3 91.5 830.8 91.5 832.3 91.5 833.8 91.5 835.3 91.6 836.8 91.6 838.3 91.6 839.8 91.6 841.3 91.6 842.8 91.6 844.3 91.6 845.8 91.6 847.3 91.6 848.8 91.7 850.3 91.7 851.8 91.7 853.3 91.7 854.8 91.7 856.3 91.7 857.8 91.7 859.3 91.7 860.8 91.7 862.3 91.8 863.8 91.8 865.3 91.8 866.8 91.8 868.3 91.8 869.8 91.8 871.3 91.8 872.8 91.8 874.3 91.8 875.8 91.8 877.3 91.9 878.8 91.9 880.3 91.9 881.8 91.9 883.3 91.9 884.8 91.9 886.3 91.9 887.8 91.9 889.3 91.9 890.8 91.9 892.3 92 893.8 92 895.3 92 896.8 92 898.3 92 899.8 92 901.3 92 902.8 92 904.3 92 905.8 92 907.3 92 908.8 92.1 910.3 92.1 911.8 92.1 913.3 92.1 914.8 92.1 916.3 92.1 917.8 92.1 919.3 92.1 920.8 92.1 922.3 92.1 923.8 92.1 925.3 92.2 926.8 92.2 928.3 92.2 929.8 92.2 931.3 92.2 932.8 92.2 934.3 92.2 935" fill="none" stroke="#a8873c" stroke-width="2.0" stroke-linejoin="round"/>
<path d="M99.6 531.5V536" stroke="#c4c4c4" stroke-width="1"/>
<rect x="370.7" y="756.3" width="48" height="23.2" fill="none" stroke="#ff6060" stroke-width="1.2"/>
<path d="M371.5 767.5H418.5" stroke="#1c1c1c" stroke-width="1.9"/>
<text x="424" y="774.7" font-family='"Liberation Sans", sans-serif' font-size="20.5" fill="#161616">0.5Ag<tspan font-size="12" dx="2" dy="-9.5">-1</tspan></text>
<path d="M371.5 797.5H418.5" stroke="#ff4848" stroke-width="2.8"/>
<text x="424" y="804.7" font-family='"Liberation Sans", sans-serif' font-size="20.5" fill="#161616">1Ag<tspan font-size="12" dx="2" dy="-9.5">-1</tspan></text>
<path d="M371.5 828.3H418.5" stroke="#2a2aff" stroke-width="2.3"/>
<text x="424" y="835.5" font-family='"Liberation Sans", sans-serif' font-size="20.5" fill="#161616">2Ag<tspan font-size="12" dx="2" dy="-9.5">-1</tspan></text>
<path d="M371.5 858.6H418.5" stroke="#1f8e8e" stroke-width="2.3"/>
<text x="424" y="865.8" font-family='"Liberation Sans", sans-serif' font-size="20.5" fill="#161616">5Ag<tspan font-size="12" dx="2" dy="-9.5">-1</tspan></text>
<path d="M371.5 888.6H418.5" stroke="#ff2bff" stroke-width="2.3"/>
<text x="424" y="895.8" font-family='"Liberation Sans", sans-serif' font-size="20.5" fill="#161616">10Ag<tspan font-size="12" dx="2" dy="-9.5">-1</tspan></text>
<path d="M371.5 918.4H418.5" stroke="#909832" stroke-width="2.3"/>
<text x="424" y="925.6" font-family='"Liberation Sans", sans-serif' font-size="20.5" fill="#161616">15Ag<tspan font-size="12" dx="2" dy="-9.5">-1</tspan></text>
<path d="M517.7 572V522.7H578.2V590" fill="none" stroke="#222" stroke-width="1.1"/><path d="M517.7 547.5l-1.8 3.5h3.6z M578.2 556l-1.8-3.5h3.6z" fill="#222"/><circle cx="548" cy="523.5" r="7" fill="#e60000" stroke="#b00000" stroke-width="0.8"/><text x="548" y="527.6" font-family='"Liberation Sans", sans-serif' font-size="11" font-weight="bold" fill="#fff" text-anchor="middle">A</text><text x="503.5" y="545.5" font-family='"Liberation Serif", serif' font-size="12" font-weight="bold" fill="#e8141e">e<tspan font-size="7" dy="-5">-</tspan></text><text x="586.3" y="545.5" font-family='"Liberation Serif", serif' font-size="12" font-weight="bold" fill="#e8141e">e<tspan font-size="7" dy="-5">-</tspan></text><rect x="498.6" y="561.9" width="13.2" height="3.4" fill="#e8141e"/><path d="M585.3 564H596.8M591 558.4V569.6" stroke="#e8141e" stroke-width="3.4"/><path d="M490.3 597.6L541 548.2L544.4 548.2L544.4 640L495.3 683.6L490.3 683.6Z" fill="#a9c9ea"/><path d="M495.3 600.2L544.4 550.8L544.4 640L495.3 683.6Z" fill="#7b9ec0"/><path d="M518.3 609L568.5 557.5L571.6 557.5L571.6 648L521.3 692L518.3 692Z" fill="#eaeaea"/><path d="M521.3 611L571.6 559.5L571.6 648L521.3 692Z" fill="#bdbdbd"/><path d="M544.8 620.8L594.5 574L598.4 574.6L598.4 659.5L550.5 708.2L544.8 708.2Z" fill="#7d4bb8"/><path d="M550.5 623.2L598.4 576.5L598.4 659.5L550.5 708.2Z" fill="#5a2786"/><text x="460.5" y="636" font-family='"Liberation Serif", serif' font-size="13" font-weight="bold" fill="#8db6e2">CNT</text><text x="483.3" y="706.2" font-family='"Liberation Serif", serif' font-size="13" font-weight="bold" fill="#6e6e6e">PVA-KOH</text><text x="604.8" y="635.5" font-family='"Liberation Serif", serif' font-size="13" font-weight="bold" fill="#7232a8">NiC<tspan font-size="9">o2</tspan>O<tspan font-size="9">4</tspan></text></svg>
</body></html>
